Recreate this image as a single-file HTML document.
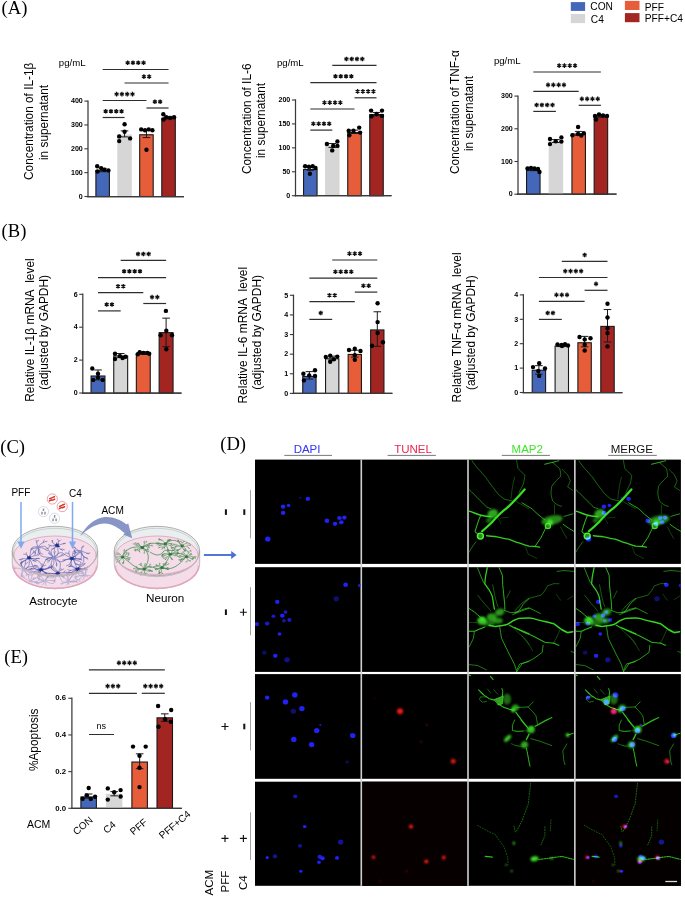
<!DOCTYPE html>
<html><head><meta charset="utf-8"><style>html,body{margin:0;padding:0;background:#fff;overflow:hidden}svg{display:block;will-change:transform}</style></head><body>
<svg width="685" height="897" viewBox="0 0 685 897">
<rect width="685" height="897" fill="#fff"/>
<text x="1.6" y="14.0" font-size="18.6" font-family='"Liberation Serif", serif'>(A)</text>
<text x="1.6" y="236.9" font-size="18.6" font-family='"Liberation Serif", serif'>(B)</text>
<text x="0.2" y="453.2" font-size="18.6" font-family='"Liberation Serif", serif'>(C)</text>
<text x="220.2" y="449.7" font-size="18.6" font-family='"Liberation Serif", serif'>(D)</text>
<text x="4.3" y="663.4" font-size="18.6" font-family='"Liberation Serif", serif'>(E)</text>
<rect x="570.8" y="2.1" width="14.3" height="8.8" fill="#4467b9"/>
<rect x="570.8" y="14" width="14.3" height="9.1" fill="#d6d6d6"/>
<rect x="624.9" y="0.9" width="14.6" height="9.1" fill="#e75d39"/>
<rect x="624.9" y="13.1" width="14.6" height="9.1" fill="#a32522"/>
<text x="590.3" y="9.6" font-size="10.2" font-family='"Liberation Sans", sans-serif'>CON</text>
<text x="590.8" y="22.7" font-size="10.2" font-family='"Liberation Sans", sans-serif'>C4</text>
<text x="644.8" y="10.8" font-size="10.2" font-family='"Liberation Sans", sans-serif'>PFF</text>
<text x="644.8" y="21.7" font-size="10.2" font-family='"Liberation Sans", sans-serif'>PFF+C4</text>
<line x1="88" y1="100.4" x2="88" y2="197.2" stroke="#3a3a3a" stroke-width="1.25"/>
<line x1="87.3" y1="196.5" x2="184" y2="196.5" stroke="#3a3a3a" stroke-width="1.25"/>
<line x1="84.4" y1="196.50" x2="88" y2="196.50" stroke="#3a3a3a" stroke-width="1.1"/>
<text x="82.8" y="198.70" font-size="7.1" font-weight="bold" text-anchor="end" font-family='"Liberation Sans", sans-serif'>0</text>
<line x1="84.4" y1="172.65" x2="88" y2="172.65" stroke="#3a3a3a" stroke-width="1.1"/>
<text x="82.8" y="174.85" font-size="7.1" font-weight="bold" text-anchor="end" font-family='"Liberation Sans", sans-serif'>100</text>
<line x1="84.4" y1="148.80" x2="88" y2="148.80" stroke="#3a3a3a" stroke-width="1.1"/>
<text x="82.8" y="151.00" font-size="7.1" font-weight="bold" text-anchor="end" font-family='"Liberation Sans", sans-serif'>200</text>
<line x1="84.4" y1="124.95" x2="88" y2="124.95" stroke="#3a3a3a" stroke-width="1.1"/>
<text x="82.8" y="127.15" font-size="7.1" font-weight="bold" text-anchor="end" font-family='"Liberation Sans", sans-serif'>300</text>
<line x1="84.4" y1="101.10" x2="88" y2="101.10" stroke="#3a3a3a" stroke-width="1.1"/>
<text x="82.8" y="103.30" font-size="7.1" font-weight="bold" text-anchor="end" font-family='"Liberation Sans", sans-serif'>400</text>
<rect x="95.90" y="170.53" width="13.50" height="25.97" fill="#4467b9" stroke="#1a1a1a" stroke-width="1.1"/>
<rect x="117.30" y="134.49" width="14.50" height="62.01" fill="#d6d6d6"/>
<rect x="139.70" y="134.75" width="13.50" height="61.75" fill="#e75d39" stroke="#1a1a1a" stroke-width="1.1"/>
<rect x="161.80" y="118.30" width="13.50" height="78.20" fill="#a32522" stroke="#1a1a1a" stroke-width="1.1"/>
<path d="M102.65,171.70V168.36M98.85,171.70H106.45M98.85,168.36H106.45" stroke="#1a1a1a" stroke-width="1" fill="none"/>
<path d="M124.55,136.88V130.91M120.75,136.88H128.35M120.75,130.91H128.35" stroke="#1a1a1a" stroke-width="1" fill="none"/>
<path d="M146.45,137.59V129.96M142.65,137.59H150.25M142.65,129.96H150.25" stroke="#1a1a1a" stroke-width="1" fill="none"/>
<path d="M168.55,118.75V116.36M164.75,118.75H172.35M164.75,116.36H172.35" stroke="#1a1a1a" stroke-width="1" fill="none"/>
<circle cx="97.20" cy="166.20" r="2.2" fill="#000"/>
<circle cx="101.20" cy="168.10" r="2.2" fill="#000"/>
<circle cx="104.50" cy="169.80" r="2.2" fill="#000"/>
<circle cx="108.40" cy="170.40" r="2.2" fill="#000"/>
<circle cx="97.50" cy="171.50" r="2.2" fill="#000"/>
<circle cx="124.60" cy="124.30" r="2.2" fill="#000"/>
<circle cx="124.60" cy="131.70" r="2.2" fill="#000"/>
<circle cx="119.20" cy="136.40" r="2.2" fill="#000"/>
<circle cx="130.10" cy="138.40" r="2.2" fill="#000"/>
<circle cx="119.20" cy="141.10" r="2.2" fill="#000"/>
<circle cx="141.20" cy="129.40" r="2.2" fill="#000"/>
<circle cx="145.00" cy="130.30" r="2.2" fill="#000"/>
<circle cx="148.70" cy="129.40" r="2.2" fill="#000"/>
<circle cx="152.40" cy="130.30" r="2.2" fill="#000"/>
<circle cx="146.50" cy="149.80" r="2.2" fill="#000"/>
<circle cx="163.30" cy="114.20" r="2.2" fill="#000"/>
<circle cx="166.20" cy="117.20" r="2.2" fill="#000"/>
<circle cx="170.20" cy="118.10" r="2.2" fill="#000"/>
<circle cx="174.10" cy="117.20" r="2.2" fill="#000"/>
<circle cx="163.60" cy="119.50" r="2.2" fill="#000"/>
<line x1="87.3" y1="196.5" x2="184" y2="196.5" stroke="#3a3a3a" stroke-width="1.25"/>
<line x1="102.65" y1="69.5" x2="168.55" y2="69.5" stroke="#2e2e2e" stroke-width="1.2"/>
<path d="M127.65,60.50L127.65,65.10M125.66,61.65L129.64,63.95M129.64,61.65L125.66,63.95M132.95,60.50L132.95,65.10M130.96,61.65L134.94,63.95M134.94,61.65L130.96,63.95M138.25,60.50L138.25,65.10M136.26,61.65L140.24,63.95M140.24,61.65L136.26,63.95M143.55,60.50L143.55,65.10M141.56,61.65L145.54,63.95M145.54,61.65L141.56,63.95" stroke="#111" stroke-width="1.3" fill="none" stroke-linecap="butt"/>
<line x1="124.55" y1="83.0" x2="168.55" y2="83.0" stroke="#2e2e2e" stroke-width="1.2"/>
<path d="M143.90,74.30L143.90,78.90M141.91,75.45L145.89,77.75M145.89,75.45L141.91,77.75M149.20,74.30L149.20,78.90M147.21,75.45L151.19,77.75M151.19,75.45L147.21,77.75" stroke="#111" stroke-width="1.3" fill="none" stroke-linecap="butt"/>
<line x1="102.65" y1="100.5" x2="146.45" y2="100.5" stroke="#2e2e2e" stroke-width="1.2"/>
<path d="M116.60,91.80L116.60,96.40M114.61,92.95L118.59,95.25M118.59,92.95L114.61,95.25M121.90,91.80L121.90,96.40M119.91,92.95L123.89,95.25M123.89,92.95L119.91,95.25M127.20,91.80L127.20,96.40M125.21,92.95L129.19,95.25M129.19,92.95L125.21,95.25M132.50,91.80L132.50,96.40M130.51,92.95L134.49,95.25M134.49,92.95L130.51,95.25" stroke="#111" stroke-width="1.3" fill="none" stroke-linecap="butt"/>
<line x1="146.45" y1="108.0" x2="168.55" y2="108.0" stroke="#2e2e2e" stroke-width="1.2"/>
<path d="M154.85,99.50L154.85,104.10M152.86,100.65L156.84,102.95M156.84,100.65L152.86,102.95M160.15,99.50L160.15,104.10M158.16,100.65L162.14,102.95M162.14,100.65L158.16,102.95" stroke="#111" stroke-width="1.3" fill="none" stroke-linecap="butt"/>
<line x1="102.65" y1="117.5" x2="124.55" y2="117.5" stroke="#2e2e2e" stroke-width="1.2"/>
<path d="M105.65,108.90L105.65,113.50M103.66,110.05L107.64,112.35M107.64,110.05L103.66,112.35M110.95,108.90L110.95,113.50M108.96,110.05L112.94,112.35M112.94,110.05L108.96,112.35M116.25,108.90L116.25,113.50M114.26,110.05L118.24,112.35M118.24,110.05L114.26,112.35M121.55,108.90L121.55,113.50M119.56,110.05L123.54,112.35M123.54,110.05L119.56,112.35" stroke="#111" stroke-width="1.3" fill="none" stroke-linecap="butt"/>
<text transform="translate(33.4,121.3) rotate(-90)" font-size="11.85" text-anchor="middle" font-family='"Liberation Sans", sans-serif'>Concentration of IL-1β</text>
<text transform="translate(47.6,122.5) rotate(-90)" font-size="11.85" text-anchor="middle" font-family='"Liberation Sans", sans-serif'>in supernatant</text>
<text x="58.8" y="66.0" font-size="9.6" font-family='"Liberation Sans", sans-serif'>pg/mL</text>
<line x1="295.5" y1="99.29999999999998" x2="295.5" y2="196.39999999999998" stroke="#3a3a3a" stroke-width="1.25"/>
<line x1="294.8" y1="195.7" x2="391.5" y2="195.7" stroke="#3a3a3a" stroke-width="1.25"/>
<line x1="291.9" y1="195.70" x2="295.5" y2="195.70" stroke="#3a3a3a" stroke-width="1.1"/>
<text x="290.3" y="197.90" font-size="7.1" font-weight="bold" text-anchor="end" font-family='"Liberation Sans", sans-serif'>0</text>
<line x1="291.9" y1="171.77" x2="295.5" y2="171.77" stroke="#3a3a3a" stroke-width="1.1"/>
<text x="290.3" y="173.97" font-size="7.1" font-weight="bold" text-anchor="end" font-family='"Liberation Sans", sans-serif'>50</text>
<line x1="291.9" y1="147.85" x2="295.5" y2="147.85" stroke="#3a3a3a" stroke-width="1.1"/>
<text x="290.3" y="150.05" font-size="7.1" font-weight="bold" text-anchor="end" font-family='"Liberation Sans", sans-serif'>100</text>
<line x1="291.9" y1="123.92" x2="295.5" y2="123.92" stroke="#3a3a3a" stroke-width="1.1"/>
<text x="290.3" y="126.12" font-size="7.1" font-weight="bold" text-anchor="end" font-family='"Liberation Sans", sans-serif'>150</text>
<line x1="291.9" y1="100.00" x2="295.5" y2="100.00" stroke="#3a3a3a" stroke-width="1.1"/>
<text x="290.3" y="102.20" font-size="7.1" font-weight="bold" text-anchor="end" font-family='"Liberation Sans", sans-serif'>200</text>
<rect x="303.55" y="169.50" width="13.50" height="26.20" fill="#4467b9" stroke="#1a1a1a" stroke-width="1.1"/>
<rect x="325.05" y="145.31" width="14.50" height="50.39" fill="#d6d6d6"/>
<rect x="347.75" y="132.51" width="13.50" height="63.19" fill="#e75d39" stroke="#1a1a1a" stroke-width="1.1"/>
<rect x="369.75" y="114.52" width="13.50" height="81.18" fill="#a32522" stroke="#1a1a1a" stroke-width="1.1"/>
<path d="M310.30,170.34V167.47M306.50,170.34H314.10M306.50,167.47H314.10" stroke="#1a1a1a" stroke-width="1" fill="none"/>
<path d="M332.30,147.37V143.54M328.50,147.37H336.10M328.50,143.54H336.10" stroke="#1a1a1a" stroke-width="1" fill="none"/>
<path d="M354.50,133.50V130.15M350.70,133.50H358.30M350.70,130.15H358.30" stroke="#1a1a1a" stroke-width="1" fill="none"/>
<path d="M376.50,115.79V112.44M372.70,115.79H380.30M372.70,112.44H380.30" stroke="#1a1a1a" stroke-width="1" fill="none"/>
<circle cx="305.10" cy="166.20" r="2.2" fill="#000"/>
<circle cx="308.90" cy="166.70" r="2.2" fill="#000"/>
<circle cx="312.70" cy="166.20" r="2.2" fill="#000"/>
<circle cx="315.50" cy="168.00" r="2.2" fill="#000"/>
<circle cx="309.90" cy="173.80" r="2.2" fill="#000"/>
<circle cx="326.90" cy="144.00" r="2.2" fill="#000"/>
<circle cx="333.20" cy="145.90" r="2.2" fill="#000"/>
<circle cx="337.40" cy="141.50" r="2.2" fill="#000"/>
<circle cx="337.40" cy="145.90" r="2.2" fill="#000"/>
<circle cx="332.20" cy="150.40" r="2.2" fill="#000"/>
<circle cx="348.70" cy="130.70" r="2.2" fill="#000"/>
<circle cx="353.50" cy="130.70" r="2.2" fill="#000"/>
<circle cx="359.20" cy="127.60" r="2.2" fill="#000"/>
<circle cx="360.10" cy="132.60" r="2.2" fill="#000"/>
<circle cx="349.30" cy="135.20" r="2.2" fill="#000"/>
<circle cx="371.10" cy="110.60" r="2.2" fill="#000"/>
<circle cx="382.00" cy="110.60" r="2.2" fill="#000"/>
<circle cx="376.60" cy="114.00" r="2.2" fill="#000"/>
<circle cx="371.50" cy="116.40" r="2.2" fill="#000"/>
<circle cx="382.00" cy="115.90" r="2.2" fill="#000"/>
<line x1="294.8" y1="195.7" x2="391.5" y2="195.7" stroke="#3a3a3a" stroke-width="1.25"/>
<line x1="332.3" y1="65.4" x2="376.5" y2="65.4" stroke="#2e2e2e" stroke-width="1.2"/>
<path d="M346.45,56.70L346.45,61.30M344.46,57.85L348.44,60.15M348.44,57.85L344.46,60.15M351.75,56.70L351.75,61.30M349.76,57.85L353.74,60.15M353.74,57.85L349.76,60.15M357.05,56.70L357.05,61.30M355.06,57.85L359.04,60.15M359.04,57.85L355.06,60.15M362.35,56.70L362.35,61.30M360.36,57.85L364.34,60.15M364.34,57.85L360.36,60.15" stroke="#111" stroke-width="1.3" fill="none" stroke-linecap="butt"/>
<line x1="310.3" y1="82.6" x2="376.5" y2="82.6" stroke="#2e2e2e" stroke-width="1.2"/>
<path d="M335.45,73.90L335.45,78.50M333.46,75.05L337.44,77.35M337.44,75.05L333.46,77.35M340.75,73.90L340.75,78.50M338.76,75.05L342.74,77.35M342.74,75.05L338.76,77.35M346.05,73.90L346.05,78.50M344.06,75.05L348.04,77.35M348.04,75.05L344.06,77.35M351.35,73.90L351.35,78.50M349.36,75.05L353.34,77.35M353.34,75.05L349.36,77.35" stroke="#111" stroke-width="1.3" fill="none" stroke-linecap="butt"/>
<line x1="354.5" y1="97.8" x2="376.5" y2="97.8" stroke="#2e2e2e" stroke-width="1.2"/>
<path d="M357.55,89.10L357.55,93.70M355.56,90.25L359.54,92.55M359.54,90.25L355.56,92.55M362.85,89.10L362.85,93.70M360.86,90.25L364.84,92.55M364.84,90.25L360.86,92.55M368.15,89.10L368.15,93.70M366.16,90.25L370.14,92.55M370.14,90.25L366.16,92.55M373.45,89.10L373.45,93.70M371.46,90.25L375.44,92.55M375.44,90.25L371.46,92.55" stroke="#111" stroke-width="1.3" fill="none" stroke-linecap="butt"/>
<line x1="310.3" y1="109" x2="354.5" y2="109" stroke="#2e2e2e" stroke-width="1.2"/>
<path d="M324.45,100.30L324.45,104.90M322.46,101.45L326.44,103.75M326.44,101.45L322.46,103.75M329.75,100.30L329.75,104.90M327.76,101.45L331.74,103.75M331.74,101.45L327.76,103.75M335.05,100.30L335.05,104.90M333.06,101.45L337.04,103.75M337.04,101.45L333.06,103.75M340.35,100.30L340.35,104.90M338.36,101.45L342.34,103.75M342.34,101.45L338.36,103.75" stroke="#111" stroke-width="1.3" fill="none" stroke-linecap="butt"/>
<line x1="310.3" y1="130.1" x2="332.3" y2="130.1" stroke="#2e2e2e" stroke-width="1.2"/>
<path d="M313.35,121.40L313.35,126.00M311.36,122.55L315.34,124.85M315.34,122.55L311.36,124.85M318.65,121.40L318.65,126.00M316.66,122.55L320.64,124.85M320.64,122.55L316.66,124.85M323.95,121.40L323.95,126.00M321.96,122.55L325.94,124.85M325.94,122.55L321.96,124.85M329.25,121.40L329.25,126.00M327.26,122.55L331.24,124.85M331.24,122.55L327.26,124.85" stroke="#111" stroke-width="1.3" fill="none" stroke-linecap="butt"/>
<text transform="translate(251,118.8) rotate(-90)" font-size="11.85" text-anchor="middle" font-family='"Liberation Sans", sans-serif'>Concentration of IL-6</text>
<text transform="translate(265,120.5) rotate(-90)" font-size="11.85" text-anchor="middle" font-family='"Liberation Sans", sans-serif'>in supernatant</text>
<text x="277.0" y="65.8" font-size="9.6" font-family='"Liberation Sans", sans-serif'>pg/mL</text>
<line x1="518.0" y1="95.39999999999998" x2="518.0" y2="194.89999999999998" stroke="#3a3a3a" stroke-width="1.25"/>
<line x1="517.3" y1="194.2" x2="616.5" y2="194.2" stroke="#3a3a3a" stroke-width="1.25"/>
<line x1="514.4" y1="194.20" x2="518.0" y2="194.20" stroke="#3a3a3a" stroke-width="1.1"/>
<text x="512.8" y="196.40" font-size="7.1" font-weight="bold" text-anchor="end" font-family='"Liberation Sans", sans-serif'>0</text>
<line x1="514.4" y1="161.50" x2="518.0" y2="161.50" stroke="#3a3a3a" stroke-width="1.1"/>
<text x="512.8" y="163.70" font-size="7.1" font-weight="bold" text-anchor="end" font-family='"Liberation Sans", sans-serif'>100</text>
<line x1="514.4" y1="128.80" x2="518.0" y2="128.80" stroke="#3a3a3a" stroke-width="1.1"/>
<text x="512.8" y="131.00" font-size="7.1" font-weight="bold" text-anchor="end" font-family='"Liberation Sans", sans-serif'>200</text>
<line x1="514.4" y1="96.10" x2="518.0" y2="96.10" stroke="#3a3a3a" stroke-width="1.1"/>
<text x="512.8" y="98.30" font-size="7.1" font-weight="bold" text-anchor="end" font-family='"Liberation Sans", sans-serif'>300</text>
<rect x="526.55" y="170.40" width="13.50" height="23.80" fill="#4467b9" stroke="#1a1a1a" stroke-width="1.1"/>
<rect x="548.65" y="141.10" width="14.50" height="53.10" fill="#d6d6d6"/>
<rect x="571.95" y="134.01" width="13.50" height="60.19" fill="#e75d39" stroke="#1a1a1a" stroke-width="1.1"/>
<rect x="594.15" y="116.91" width="13.50" height="77.29" fill="#a32522" stroke="#1a1a1a" stroke-width="1.1"/>
<path d="M533.30,170.66V169.02M529.50,170.66H537.10M529.50,169.02H537.10" stroke="#1a1a1a" stroke-width="1" fill="none"/>
<path d="M555.90,142.53V139.59M552.10,142.53H559.70M552.10,139.59H559.70" stroke="#1a1a1a" stroke-width="1" fill="none"/>
<path d="M578.70,135.34V131.42M574.90,135.34H582.50M574.90,131.42H582.50" stroke="#1a1a1a" stroke-width="1" fill="none"/>
<path d="M600.90,117.03V115.72M597.10,117.03H604.70M597.10,115.72H604.70" stroke="#1a1a1a" stroke-width="1" fill="none"/>
<circle cx="527.50" cy="168.50" r="2.2" fill="#000"/>
<circle cx="531.00" cy="168.00" r="2.2" fill="#000"/>
<circle cx="534.50" cy="168.50" r="2.2" fill="#000"/>
<circle cx="538.00" cy="169.00" r="2.2" fill="#000"/>
<circle cx="539.50" cy="172.00" r="2.2" fill="#000"/>
<circle cx="550.00" cy="139.00" r="2.2" fill="#000"/>
<circle cx="555.70" cy="141.20" r="2.2" fill="#000"/>
<circle cx="561.40" cy="137.40" r="2.2" fill="#000"/>
<circle cx="561.40" cy="141.60" r="2.2" fill="#000"/>
<circle cx="550.00" cy="144.10" r="2.2" fill="#000"/>
<circle cx="578.10" cy="127.00" r="2.2" fill="#000"/>
<circle cx="572.40" cy="135.20" r="2.2" fill="#000"/>
<circle cx="578.10" cy="134.00" r="2.2" fill="#000"/>
<circle cx="583.80" cy="133.30" r="2.2" fill="#000"/>
<circle cx="581.30" cy="135.50" r="2.2" fill="#000"/>
<circle cx="595.00" cy="116.00" r="2.2" fill="#000"/>
<circle cx="599.00" cy="114.50" r="2.2" fill="#000"/>
<circle cx="603.00" cy="115.50" r="2.2" fill="#000"/>
<circle cx="607.00" cy="116.00" r="2.2" fill="#000"/>
<circle cx="596.00" cy="119.50" r="2.2" fill="#000"/>
<line x1="517.3" y1="194.2" x2="616.5" y2="194.2" stroke="#3a3a3a" stroke-width="1.25"/>
<line x1="533.3" y1="72" x2="600.9" y2="72" stroke="#2e2e2e" stroke-width="1.2"/>
<path d="M559.15,63.30L559.15,67.90M557.16,64.45L561.14,66.75M561.14,64.45L557.16,66.75M564.45,63.30L564.45,67.90M562.46,64.45L566.44,66.75M566.44,64.45L562.46,66.75M569.75,63.30L569.75,67.90M567.76,64.45L571.74,66.75M571.74,64.45L567.76,66.75M575.05,63.30L575.05,67.90M573.06,64.45L577.04,66.75M577.04,64.45L573.06,66.75" stroke="#111" stroke-width="1.3" fill="none" stroke-linecap="butt"/>
<line x1="533.3" y1="91.3" x2="578.7" y2="91.3" stroke="#2e2e2e" stroke-width="1.2"/>
<path d="M548.05,82.60L548.05,87.20M546.06,83.75L550.04,86.05M550.04,83.75L546.06,86.05M553.35,82.60L553.35,87.20M551.36,83.75L555.34,86.05M555.34,83.75L551.36,86.05M558.65,82.60L558.65,87.20M556.66,83.75L560.64,86.05M560.64,83.75L556.66,86.05M563.95,82.60L563.95,87.20M561.96,83.75L565.94,86.05M565.94,83.75L561.96,86.05" stroke="#111" stroke-width="1.3" fill="none" stroke-linecap="butt"/>
<line x1="578.7" y1="105.3" x2="600.9" y2="105.3" stroke="#2e2e2e" stroke-width="1.2"/>
<path d="M581.85,96.60L581.85,101.20M579.86,97.75L583.84,100.05M583.84,97.75L579.86,100.05M587.15,96.60L587.15,101.20M585.16,97.75L589.14,100.05M589.14,97.75L585.16,100.05M592.45,96.60L592.45,101.20M590.46,97.75L594.44,100.05M594.44,97.75L590.46,100.05M597.75,96.60L597.75,101.20M595.76,97.75L599.74,100.05M599.74,97.75L595.76,100.05" stroke="#111" stroke-width="1.3" fill="none" stroke-linecap="butt"/>
<line x1="533.3" y1="111.4" x2="555.9" y2="111.4" stroke="#2e2e2e" stroke-width="1.2"/>
<path d="M536.65,102.70L536.65,107.30M534.66,103.85L538.64,106.15M538.64,103.85L534.66,106.15M541.95,102.70L541.95,107.30M539.96,103.85L543.94,106.15M543.94,103.85L539.96,106.15M547.25,102.70L547.25,107.30M545.26,103.85L549.24,106.15M549.24,103.85L545.26,106.15M552.55,102.70L552.55,107.30M550.56,103.85L554.54,106.15M554.54,103.85L550.56,106.15" stroke="#111" stroke-width="1.3" fill="none" stroke-linecap="butt"/>
<text transform="translate(458.9,112.1) rotate(-90)" font-size="11.85" text-anchor="middle" font-family='"Liberation Sans", sans-serif'>Concentration of TNF-α</text>
<text transform="translate(472.6,113.5) rotate(-90)" font-size="11.85" text-anchor="middle" font-family='"Liberation Sans", sans-serif'>in supernatant</text>
<text x="493.9" y="64.1" font-size="9.6" font-family='"Liberation Sans", sans-serif'>pg/mL</text>
<line x1="82.8" y1="293.6" x2="82.8" y2="393.7" stroke="#3a3a3a" stroke-width="1.25"/>
<line x1="82.1" y1="393" x2="181.5" y2="393" stroke="#3a3a3a" stroke-width="1.25"/>
<line x1="79.2" y1="393.00" x2="82.8" y2="393.00" stroke="#3a3a3a" stroke-width="1.1"/>
<text x="77.6" y="395.20" font-size="7.1" font-weight="bold" text-anchor="end" font-family='"Liberation Sans", sans-serif'>0</text>
<line x1="79.2" y1="360.10" x2="82.8" y2="360.10" stroke="#3a3a3a" stroke-width="1.1"/>
<text x="77.6" y="362.30" font-size="7.1" font-weight="bold" text-anchor="end" font-family='"Liberation Sans", sans-serif'>2</text>
<line x1="79.2" y1="327.20" x2="82.8" y2="327.20" stroke="#3a3a3a" stroke-width="1.1"/>
<text x="77.6" y="329.40" font-size="7.1" font-weight="bold" text-anchor="end" font-family='"Liberation Sans", sans-serif'>4</text>
<line x1="79.2" y1="294.30" x2="82.8" y2="294.30" stroke="#3a3a3a" stroke-width="1.1"/>
<text x="77.6" y="296.50" font-size="7.1" font-weight="bold" text-anchor="end" font-family='"Liberation Sans", sans-serif'>6</text>
<rect x="91.05" y="376.00" width="13.90" height="17.00" fill="#4467b9" stroke="#1a1a1a" stroke-width="1.1"/>
<rect x="113.75" y="355.99" width="13.90" height="37.01" fill="#d6d6d6" stroke="#1a1a1a" stroke-width="1.1"/>
<rect x="136.35" y="353.69" width="13.90" height="39.31" fill="#e75d39" stroke="#1a1a1a" stroke-width="1.1"/>
<rect x="159.15" y="332.63" width="13.90" height="60.37" fill="#a32522" stroke="#1a1a1a" stroke-width="1.1"/>
<path d="M98.00,379.84V369.97M94.20,379.84H101.80M94.20,369.97H101.80" stroke="#1a1a1a" stroke-width="1" fill="none"/>
<path d="M120.70,357.63V353.52M116.90,357.63H124.50M116.90,353.52H124.50" stroke="#1a1a1a" stroke-width="1" fill="none"/>
<path d="M143.30,354.34V351.88M139.50,354.34H147.10M139.50,351.88H147.10" stroke="#1a1a1a" stroke-width="1" fill="none"/>
<path d="M166.10,346.61V318.15M162.30,346.61H169.90M162.30,318.15H169.90" stroke="#1a1a1a" stroke-width="1" fill="none"/>
<circle cx="92.30" cy="368.50" r="2.2" fill="#000"/>
<circle cx="98.00" cy="373.80" r="2.2" fill="#000"/>
<circle cx="98.00" cy="377.60" r="2.2" fill="#000"/>
<circle cx="93.20" cy="379.90" r="2.2" fill="#000"/>
<circle cx="102.70" cy="379.90" r="2.2" fill="#000"/>
<circle cx="115.00" cy="353.70" r="2.2" fill="#000"/>
<circle cx="119.80" cy="356.10" r="2.2" fill="#000"/>
<circle cx="125.50" cy="356.70" r="2.2" fill="#000"/>
<circle cx="115.00" cy="359.00" r="2.2" fill="#000"/>
<circle cx="122.60" cy="358.00" r="2.2" fill="#000"/>
<circle cx="139.70" cy="352.30" r="2.2" fill="#000"/>
<circle cx="143.50" cy="352.90" r="2.2" fill="#000"/>
<circle cx="147.30" cy="352.90" r="2.2" fill="#000"/>
<circle cx="137.80" cy="354.20" r="2.2" fill="#000"/>
<circle cx="149.20" cy="353.70" r="2.2" fill="#000"/>
<circle cx="165.90" cy="310.90" r="2.2" fill="#000"/>
<circle cx="166.30" cy="330.80" r="2.2" fill="#000"/>
<circle cx="160.60" cy="335.20" r="2.2" fill="#000"/>
<circle cx="172.00" cy="335.20" r="2.2" fill="#000"/>
<circle cx="166.30" cy="349.20" r="2.2" fill="#000"/>
<line x1="82.1" y1="393" x2="181.5" y2="393" stroke="#3a3a3a" stroke-width="1.25"/>
<line x1="120.7" y1="260.4" x2="166.1" y2="260.4" stroke="#2e2e2e" stroke-width="1.2"/>
<path d="M138.10,251.70L138.10,256.30M136.11,252.85L140.09,255.15M140.09,252.85L136.11,255.15M143.40,251.70L143.40,256.30M141.41,252.85L145.39,255.15M145.39,252.85L141.41,255.15M148.70,251.70L148.70,256.30M146.71,252.85L150.69,255.15M150.69,252.85L146.71,255.15" stroke="#111" stroke-width="1.3" fill="none" stroke-linecap="butt"/>
<line x1="98" y1="277.6" x2="166.1" y2="277.6" stroke="#2e2e2e" stroke-width="1.2"/>
<path d="M124.10,268.90L124.10,273.50M122.11,270.05L126.09,272.35M126.09,270.05L122.11,272.35M129.40,268.90L129.40,273.50M127.41,270.05L131.39,272.35M131.39,270.05L127.41,272.35M134.70,268.90L134.70,273.50M132.71,270.05L136.69,272.35M136.69,270.05L132.71,272.35M140.00,268.90L140.00,273.50M138.01,270.05L141.99,272.35M141.99,270.05L138.01,272.35" stroke="#111" stroke-width="1.3" fill="none" stroke-linecap="butt"/>
<line x1="98" y1="292.7" x2="143.3" y2="292.7" stroke="#2e2e2e" stroke-width="1.2"/>
<path d="M118.00,284.00L118.00,288.60M116.01,285.15L119.99,287.45M119.99,285.15L116.01,287.45M123.30,284.00L123.30,288.60M121.31,285.15L125.29,287.45M125.29,285.15L121.31,287.45" stroke="#111" stroke-width="1.3" fill="none" stroke-linecap="butt"/>
<line x1="143.3" y1="303.5" x2="166.1" y2="303.5" stroke="#2e2e2e" stroke-width="1.2"/>
<path d="M152.05,294.80L152.05,299.40M150.06,295.95L154.04,298.25M154.04,295.95L150.06,298.25M157.35,294.80L157.35,299.40M155.36,295.95L159.34,298.25M159.34,295.95L155.36,298.25" stroke="#111" stroke-width="1.3" fill="none" stroke-linecap="butt"/>
<line x1="98" y1="310.9" x2="120.7" y2="310.9" stroke="#2e2e2e" stroke-width="1.2"/>
<path d="M106.70,302.20L106.70,306.80M104.71,303.35L108.69,305.65M108.69,303.35L104.71,305.65M112.00,302.20L112.00,306.80M110.01,303.35L113.99,305.65M113.99,303.35L110.01,305.65" stroke="#111" stroke-width="1.3" fill="none" stroke-linecap="butt"/>
<text transform="translate(33.5,330.0) rotate(-90)" font-size="11.95" text-anchor="middle" font-family='"Liberation Sans", sans-serif'>Relative IL-1β mRNA&#160; level</text>
<text transform="translate(47.6,332.3) rotate(-90)" font-size="11.95" text-anchor="middle" font-family='"Liberation Sans", sans-serif'>(adjusted by GAPDH)</text>
<line x1="293.5" y1="294.59999999999997" x2="293.5" y2="394.09999999999997" stroke="#3a3a3a" stroke-width="1.25"/>
<line x1="292.8" y1="393.4" x2="392.4" y2="393.4" stroke="#3a3a3a" stroke-width="1.25"/>
<line x1="289.9" y1="393.40" x2="293.5" y2="393.40" stroke="#3a3a3a" stroke-width="1.1"/>
<text x="288.3" y="395.60" font-size="7.1" font-weight="bold" text-anchor="end" font-family='"Liberation Sans", sans-serif'>0</text>
<line x1="289.9" y1="373.78" x2="293.5" y2="373.78" stroke="#3a3a3a" stroke-width="1.1"/>
<text x="288.3" y="375.98" font-size="7.1" font-weight="bold" text-anchor="end" font-family='"Liberation Sans", sans-serif'>1</text>
<line x1="289.9" y1="354.16" x2="293.5" y2="354.16" stroke="#3a3a3a" stroke-width="1.1"/>
<text x="288.3" y="356.36" font-size="7.1" font-weight="bold" text-anchor="end" font-family='"Liberation Sans", sans-serif'>2</text>
<line x1="289.9" y1="334.54" x2="293.5" y2="334.54" stroke="#3a3a3a" stroke-width="1.1"/>
<text x="288.3" y="336.74" font-size="7.1" font-weight="bold" text-anchor="end" font-family='"Liberation Sans", sans-serif'>3</text>
<line x1="289.9" y1="314.92" x2="293.5" y2="314.92" stroke="#3a3a3a" stroke-width="1.1"/>
<text x="288.3" y="317.12" font-size="7.1" font-weight="bold" text-anchor="end" font-family='"Liberation Sans", sans-serif'>4</text>
<line x1="289.9" y1="295.30" x2="293.5" y2="295.30" stroke="#3a3a3a" stroke-width="1.1"/>
<text x="288.3" y="297.50" font-size="7.1" font-weight="bold" text-anchor="end" font-family='"Liberation Sans", sans-serif'>5</text>
<rect x="302.75" y="376.44" width="13.30" height="16.96" fill="#4467b9" stroke="#1a1a1a" stroke-width="1.1"/>
<rect x="325.55" y="358.78" width="13.30" height="34.62" fill="#d6d6d6" stroke="#1a1a1a" stroke-width="1.1"/>
<rect x="348.15" y="354.46" width="13.30" height="38.94" fill="#e75d39" stroke="#1a1a1a" stroke-width="1.1"/>
<rect x="370.65" y="329.94" width="13.30" height="63.46" fill="#a32522" stroke="#1a1a1a" stroke-width="1.1"/>
<path d="M309.40,379.08V371.62M305.60,379.08H313.20M305.60,371.62H313.20" stroke="#1a1a1a" stroke-width="1" fill="none"/>
<path d="M332.20,360.05V356.12M328.40,360.05H336.00M328.40,356.12H336.00" stroke="#1a1a1a" stroke-width="1" fill="none"/>
<path d="M354.80,357.10V350.24M351.00,357.10H358.60M351.00,350.24H358.60" stroke="#1a1a1a" stroke-width="1" fill="none"/>
<path d="M377.30,346.31V311.78M373.50,346.31H381.10M373.50,311.78H381.10" stroke="#1a1a1a" stroke-width="1" fill="none"/>
<circle cx="303.40" cy="373.70" r="2.2" fill="#000"/>
<circle cx="309.20" cy="375.50" r="2.2" fill="#000"/>
<circle cx="315.00" cy="370.30" r="2.2" fill="#000"/>
<circle cx="315.00" cy="375.90" r="2.2" fill="#000"/>
<circle cx="303.90" cy="380.40" r="2.2" fill="#000"/>
<circle cx="325.80" cy="357.00" r="2.2" fill="#000"/>
<circle cx="330.20" cy="355.80" r="2.2" fill="#000"/>
<circle cx="337.30" cy="356.60" r="2.2" fill="#000"/>
<circle cx="333.80" cy="359.20" r="2.2" fill="#000"/>
<circle cx="330.20" cy="361.80" r="2.2" fill="#000"/>
<circle cx="349.00" cy="350.00" r="2.2" fill="#000"/>
<circle cx="354.80" cy="348.80" r="2.2" fill="#000"/>
<circle cx="360.50" cy="351.00" r="2.2" fill="#000"/>
<circle cx="354.80" cy="355.20" r="2.2" fill="#000"/>
<circle cx="354.80" cy="359.80" r="2.2" fill="#000"/>
<circle cx="377.60" cy="303.20" r="2.2" fill="#000"/>
<circle cx="377.60" cy="322.10" r="2.2" fill="#000"/>
<circle cx="377.60" cy="333.00" r="2.2" fill="#000"/>
<circle cx="382.90" cy="342.30" r="2.2" fill="#000"/>
<circle cx="372.00" cy="345.80" r="2.2" fill="#000"/>
<line x1="292.8" y1="393.4" x2="392.4" y2="393.4" stroke="#3a3a3a" stroke-width="1.25"/>
<line x1="332.2" y1="260" x2="377.3" y2="260" stroke="#2e2e2e" stroke-width="1.2"/>
<path d="M349.45,251.30L349.45,255.90M347.46,252.45L351.44,254.75M351.44,252.45L347.46,254.75M354.75,251.30L354.75,255.90M352.76,252.45L356.74,254.75M356.74,252.45L352.76,254.75M360.05,251.30L360.05,255.90M358.06,252.45L362.04,254.75M362.04,252.45L358.06,254.75" stroke="#111" stroke-width="1.3" fill="none" stroke-linecap="butt"/>
<line x1="309.4" y1="278.1" x2="377.3" y2="278.1" stroke="#2e2e2e" stroke-width="1.2"/>
<path d="M335.40,269.40L335.40,274.00M333.41,270.55L337.39,272.85M337.39,270.55L333.41,272.85M340.70,269.40L340.70,274.00M338.71,270.55L342.69,272.85M342.69,270.55L338.71,272.85M346.00,269.40L346.00,274.00M344.01,270.55L347.99,272.85M347.99,270.55L344.01,272.85M351.30,269.40L351.30,274.00M349.31,270.55L353.29,272.85M353.29,270.55L349.31,272.85" stroke="#111" stroke-width="1.3" fill="none" stroke-linecap="butt"/>
<line x1="354.8" y1="292.1" x2="377.3" y2="292.1" stroke="#2e2e2e" stroke-width="1.2"/>
<path d="M363.40,283.40L363.40,288.00M361.41,284.55L365.39,286.85M365.39,284.55L361.41,286.85M368.70,283.40L368.70,288.00M366.71,284.55L370.69,286.85M370.69,284.55L366.71,286.85" stroke="#111" stroke-width="1.3" fill="none" stroke-linecap="butt"/>
<line x1="309.4" y1="301.7" x2="354.8" y2="301.7" stroke="#2e2e2e" stroke-width="1.2"/>
<path d="M329.45,293.00L329.45,297.60M327.46,294.15L331.44,296.45M331.44,294.15L327.46,296.45M334.75,293.00L334.75,297.60M332.76,294.15L336.74,296.45M336.74,294.15L332.76,296.45" stroke="#111" stroke-width="1.3" fill="none" stroke-linecap="butt"/>
<line x1="309.4" y1="319.4" x2="332.2" y2="319.4" stroke="#2e2e2e" stroke-width="1.2"/>
<path d="M320.80,310.70L320.80,315.30M318.81,311.85L322.79,314.15M322.79,311.85L318.81,314.15" stroke="#111" stroke-width="1.3" fill="none" stroke-linecap="butt"/>
<text transform="translate(246.8,335.2) rotate(-90)" font-size="11.95" text-anchor="middle" font-family='"Liberation Sans", sans-serif'>Relative IL-6 mRNA&#160; level</text>
<text transform="translate(260.8,332.4) rotate(-90)" font-size="11.95" text-anchor="middle" font-family='"Liberation Sans", sans-serif'>(adjusted by GAPDH)</text>
<line x1="523.4" y1="294.2" x2="523.4" y2="393.2" stroke="#3a3a3a" stroke-width="1.25"/>
<line x1="522.6999999999999" y1="392.5" x2="622.4" y2="392.5" stroke="#3a3a3a" stroke-width="1.25"/>
<line x1="519.8" y1="392.50" x2="523.4" y2="392.50" stroke="#3a3a3a" stroke-width="1.1"/>
<text x="518.1999999999999" y="394.70" font-size="7.1" font-weight="bold" text-anchor="end" font-family='"Liberation Sans", sans-serif'>0</text>
<line x1="519.8" y1="368.10" x2="523.4" y2="368.10" stroke="#3a3a3a" stroke-width="1.1"/>
<text x="518.1999999999999" y="370.30" font-size="7.1" font-weight="bold" text-anchor="end" font-family='"Liberation Sans", sans-serif'>1</text>
<line x1="519.8" y1="343.70" x2="523.4" y2="343.70" stroke="#3a3a3a" stroke-width="1.1"/>
<text x="518.1999999999999" y="345.90" font-size="7.1" font-weight="bold" text-anchor="end" font-family='"Liberation Sans", sans-serif'>2</text>
<line x1="519.8" y1="319.30" x2="523.4" y2="319.30" stroke="#3a3a3a" stroke-width="1.1"/>
<text x="518.1999999999999" y="321.50" font-size="7.1" font-weight="bold" text-anchor="end" font-family='"Liberation Sans", sans-serif'>3</text>
<line x1="519.8" y1="294.90" x2="523.4" y2="294.90" stroke="#3a3a3a" stroke-width="1.1"/>
<text x="518.1999999999999" y="297.10" font-size="7.1" font-weight="bold" text-anchor="end" font-family='"Liberation Sans", sans-serif'>4</text>
<rect x="532.20" y="370.21" width="13.40" height="22.29" fill="#4467b9" stroke="#1a1a1a" stroke-width="1.1"/>
<rect x="555.10" y="346.20" width="13.40" height="46.30" fill="#d6d6d6" stroke="#1a1a1a" stroke-width="1.1"/>
<rect x="577.90" y="342.74" width="13.40" height="49.76" fill="#e75d39" stroke="#1a1a1a" stroke-width="1.1"/>
<rect x="600.80" y="326.39" width="13.40" height="66.11" fill="#a32522" stroke="#1a1a1a" stroke-width="1.1"/>
<path d="M538.90,374.20V365.66M535.10,374.20H542.70M535.10,365.66H542.70" stroke="#1a1a1a" stroke-width="1" fill="none"/>
<path d="M561.80,346.63V344.92M558.00,346.63H565.60M558.00,344.92H565.60" stroke="#1a1a1a" stroke-width="1" fill="none"/>
<path d="M584.60,346.87V336.38M580.80,346.87H588.40M580.80,336.38H588.40" stroke="#1a1a1a" stroke-width="1" fill="none"/>
<path d="M607.50,341.99V309.54M603.70,341.99H611.30M603.70,309.54H611.30" stroke="#1a1a1a" stroke-width="1" fill="none"/>
<circle cx="539.20" cy="363.30" r="2.2" fill="#000"/>
<circle cx="533.00" cy="367.10" r="2.2" fill="#000"/>
<circle cx="545.00" cy="368.50" r="2.2" fill="#000"/>
<circle cx="538.30" cy="371.00" r="2.2" fill="#000"/>
<circle cx="539.20" cy="375.90" r="2.2" fill="#000"/>
<circle cx="557.50" cy="344.50" r="2.2" fill="#000"/>
<circle cx="561.50" cy="345.00" r="2.2" fill="#000"/>
<circle cx="565.00" cy="344.30" r="2.2" fill="#000"/>
<circle cx="568.00" cy="345.50" r="2.2" fill="#000"/>
<circle cx="562.00" cy="346.00" r="2.2" fill="#000"/>
<circle cx="579.50" cy="337.00" r="2.2" fill="#000"/>
<circle cx="584.70" cy="339.40" r="2.2" fill="#000"/>
<circle cx="590.50" cy="338.20" r="2.2" fill="#000"/>
<circle cx="584.70" cy="344.70" r="2.2" fill="#000"/>
<circle cx="584.70" cy="350.50" r="2.2" fill="#000"/>
<circle cx="607.50" cy="303.70" r="2.2" fill="#000"/>
<circle cx="607.50" cy="317.50" r="2.2" fill="#000"/>
<circle cx="607.50" cy="328.20" r="2.2" fill="#000"/>
<circle cx="607.50" cy="333.00" r="2.2" fill="#000"/>
<circle cx="607.50" cy="346.40" r="2.2" fill="#000"/>
<line x1="522.6999999999999" y1="392.5" x2="622.4" y2="392.5" stroke="#3a3a3a" stroke-width="1.25"/>
<line x1="561.8" y1="261.4" x2="607.5" y2="261.4" stroke="#2e2e2e" stroke-width="1.2"/>
<path d="M584.65,252.70L584.65,257.30M582.66,253.85L586.64,256.15M586.64,253.85L582.66,256.15" stroke="#111" stroke-width="1.3" fill="none" stroke-linecap="butt"/>
<line x1="538.9" y1="277.5" x2="607.5" y2="277.5" stroke="#2e2e2e" stroke-width="1.2"/>
<path d="M565.25,268.80L565.25,273.40M563.26,269.95L567.24,272.25M567.24,269.95L563.26,272.25M570.55,268.80L570.55,273.40M568.56,269.95L572.54,272.25M572.54,269.95L568.56,272.25M575.85,268.80L575.85,273.40M573.86,269.95L577.84,272.25M577.84,269.95L573.86,272.25M581.15,268.80L581.15,273.40M579.16,269.95L583.14,272.25M583.14,269.95L579.16,272.25" stroke="#111" stroke-width="1.3" fill="none" stroke-linecap="butt"/>
<line x1="584.6" y1="290.3" x2="607.5" y2="290.3" stroke="#2e2e2e" stroke-width="1.2"/>
<path d="M596.05,281.60L596.05,286.20M594.06,282.75L598.04,285.05M598.04,282.75L594.06,285.05" stroke="#111" stroke-width="1.3" fill="none" stroke-linecap="butt"/>
<line x1="538.9" y1="301.3" x2="584.6" y2="301.3" stroke="#2e2e2e" stroke-width="1.2"/>
<path d="M556.45,292.60L556.45,297.20M554.46,293.75L558.44,296.05M558.44,293.75L554.46,296.05M561.75,292.60L561.75,297.20M559.76,293.75L563.74,296.05M563.74,293.75L559.76,296.05M567.05,292.60L567.05,297.20M565.06,293.75L569.04,296.05M569.04,293.75L565.06,296.05" stroke="#111" stroke-width="1.3" fill="none" stroke-linecap="butt"/>
<line x1="538.9" y1="319.4" x2="561.8" y2="319.4" stroke="#2e2e2e" stroke-width="1.2"/>
<path d="M547.70,310.70L547.70,315.30M545.71,311.85L549.69,314.15M549.69,311.85L545.71,314.15M553.00,310.70L553.00,315.30M551.01,311.85L554.99,314.15M554.99,311.85L551.01,314.15" stroke="#111" stroke-width="1.3" fill="none" stroke-linecap="butt"/>
<text transform="translate(460.9,327.4) rotate(-90)" font-size="11.95" text-anchor="middle" font-family='"Liberation Sans", sans-serif'>Relative TNF-α mRNA&#160; level</text>
<text transform="translate(475.2,332.7) rotate(-90)" font-size="11.95" text-anchor="middle" font-family='"Liberation Sans", sans-serif'>(adjusted by GAPDH)</text>
<line x1="71.9" y1="697.56" x2="71.9" y2="809.0" stroke="#3a3a3a" stroke-width="1.25"/>
<line x1="71.2" y1="808.3" x2="181.8" y2="808.3" stroke="#3a3a3a" stroke-width="1.25"/>
<line x1="68.30000000000001" y1="808.30" x2="71.9" y2="808.30" stroke="#3a3a3a" stroke-width="1.1"/>
<text x="66.0" y="810.50" font-size="7.8" font-weight="bold" text-anchor="end" font-family='"Liberation Sans", sans-serif'>0.0</text>
<line x1="68.30000000000001" y1="771.62" x2="71.9" y2="771.62" stroke="#3a3a3a" stroke-width="1.1"/>
<text x="66.0" y="773.82" font-size="7.8" font-weight="bold" text-anchor="end" font-family='"Liberation Sans", sans-serif'>0.2</text>
<line x1="68.30000000000001" y1="734.94" x2="71.9" y2="734.94" stroke="#3a3a3a" stroke-width="1.1"/>
<text x="66.0" y="737.14" font-size="7.8" font-weight="bold" text-anchor="end" font-family='"Liberation Sans", sans-serif'>0.4</text>
<line x1="68.30000000000001" y1="698.26" x2="71.9" y2="698.26" stroke="#3a3a3a" stroke-width="1.1"/>
<text x="66.0" y="700.46" font-size="7.8" font-weight="bold" text-anchor="end" font-family='"Liberation Sans", sans-serif'>0.6</text>
<rect x="80.90" y="796.97" width="15.50" height="11.33" fill="#4467b9" stroke="#1a1a1a" stroke-width="1.1"/>
<rect x="105.90" y="793.81" width="16.50" height="14.49" fill="#d6d6d6"/>
<rect x="131.90" y="762.03" width="15.50" height="46.27" fill="#e75d39" stroke="#1a1a1a" stroke-width="1.1"/>
<rect x="157.00" y="717.83" width="15.50" height="90.47" fill="#a32522" stroke="#1a1a1a" stroke-width="1.1"/>
<path d="M88.65,798.21V793.99M84.85,798.21H92.45M84.85,793.99H92.45" stroke="#1a1a1a" stroke-width="1" fill="none"/>
<path d="M114.15,795.83V791.61M110.35,795.83H117.95M110.35,791.61H117.95" stroke="#1a1a1a" stroke-width="1" fill="none"/>
<path d="M139.65,768.69V753.83M135.85,768.69H143.45M135.85,753.83H143.45" stroke="#1a1a1a" stroke-width="1" fill="none"/>
<path d="M164.75,721.37V713.85M160.95,721.37H168.55M160.95,713.85H168.55" stroke="#1a1a1a" stroke-width="1" fill="none"/>
<circle cx="88.70" cy="788.00" r="2.2" fill="#000"/>
<circle cx="86.60" cy="795.40" r="2.2" fill="#000"/>
<circle cx="82.70" cy="798.70" r="2.2" fill="#000"/>
<circle cx="90.80" cy="798.90" r="2.2" fill="#000"/>
<circle cx="95.10" cy="796.70" r="2.2" fill="#000"/>
<circle cx="107.80" cy="788.40" r="2.2" fill="#000"/>
<circle cx="120.60" cy="790.10" r="2.2" fill="#000"/>
<circle cx="114.20" cy="792.30" r="2.2" fill="#000"/>
<circle cx="120.60" cy="796.50" r="2.2" fill="#000"/>
<circle cx="107.80" cy="799.60" r="2.2" fill="#000"/>
<circle cx="133.00" cy="746.60" r="2.2" fill="#000"/>
<circle cx="145.70" cy="746.60" r="2.2" fill="#000"/>
<circle cx="139.50" cy="755.80" r="2.2" fill="#000"/>
<circle cx="139.50" cy="767.70" r="2.2" fill="#000"/>
<circle cx="139.50" cy="787.10" r="2.2" fill="#000"/>
<circle cx="158.10" cy="706.00" r="2.2" fill="#000"/>
<circle cx="171.20" cy="710.00" r="2.2" fill="#000"/>
<circle cx="165.10" cy="719.20" r="2.2" fill="#000"/>
<circle cx="158.50" cy="726.80" r="2.2" fill="#000"/>
<circle cx="170.80" cy="721.70" r="2.2" fill="#000"/>
<line x1="71.2" y1="808.3" x2="181.8" y2="808.3" stroke="#3a3a3a" stroke-width="1.25"/>
<line x1="88.9" y1="669.9" x2="164.8" y2="669.9" stroke="#2e2e2e" stroke-width="1.2"/>
<path d="M118.90,660.60L118.90,665.20M116.91,661.75L120.89,664.05M120.89,661.75L116.91,664.05M124.20,660.60L124.20,665.20M122.21,661.75L126.19,664.05M126.19,661.75L122.21,664.05M129.50,660.60L129.50,665.20M127.51,661.75L131.49,664.05M131.49,661.75L127.51,664.05M134.80,660.60L134.80,665.20M132.81,661.75L136.79,664.05M136.79,661.75L132.81,664.05" stroke="#111" stroke-width="1.3" fill="none" stroke-linecap="butt"/>
<line x1="88.9" y1="693.3" x2="136.9" y2="693.3" stroke="#2e2e2e" stroke-width="1.2"/>
<path d="M107.60,683.80L107.60,688.40M105.61,684.95L109.59,687.25M109.59,684.95L105.61,687.25M112.90,683.80L112.90,688.40M110.91,684.95L114.89,687.25M114.89,684.95L110.91,687.25M118.20,683.80L118.20,688.40M116.21,684.95L120.19,687.25M120.19,684.95L116.21,687.25" stroke="#111" stroke-width="1.3" fill="none" stroke-linecap="butt"/>
<line x1="141.7" y1="693.3" x2="164.8" y2="693.3" stroke="#2e2e2e" stroke-width="1.2"/>
<path d="M145.30,683.80L145.30,688.40M143.31,684.95L147.29,687.25M147.29,684.95L143.31,687.25M150.60,683.80L150.60,688.40M148.61,684.95L152.59,687.25M152.59,684.95L148.61,687.25M155.90,683.80L155.90,688.40M153.91,684.95L157.89,687.25M157.89,684.95L153.91,687.25M161.20,683.80L161.20,688.40M159.21,684.95L163.19,687.25M163.19,684.95L159.21,687.25" stroke="#111" stroke-width="1.3" fill="none" stroke-linecap="butt"/>
<line x1="89" y1="734.5" x2="114" y2="734.5" stroke="#2e2e2e" stroke-width="1"/>
<text x="101.3" y="728.8" font-size="9" text-anchor="middle" font-family='"Liberation Sans", sans-serif'>ns</text>
<text transform="translate(38.4,739.8) rotate(-90)" font-size="11.85" text-anchor="middle" font-family='"Liberation Sans", sans-serif'>%Apoptosis</text>
<text x="27" y="828" font-size="10.5" font-family='"Liberation Sans", sans-serif'>ACM</text>
<text transform="translate(84.9,828.3) rotate(-40)" font-size="10" text-anchor="middle" font-family='"Liberation Sans", sans-serif'>CON</text>
<text transform="translate(111.7,829.9) rotate(-40)" font-size="10" text-anchor="middle" font-family='"Liberation Sans", sans-serif'>C4</text>
<text transform="translate(140.8,829.5) rotate(-40)" font-size="10" text-anchor="middle" font-family='"Liberation Sans", sans-serif'>PFF</text>
<text transform="translate(176.9,827.3) rotate(-40)" font-size="10" text-anchor="middle" font-family='"Liberation Sans", sans-serif'>PFF+C4</text>
<path d="M12.2,551 L12.2,564 A42.75,24.7 0 0 0 97.7,564 L97.7,551 Z" fill="#f4dce8" stroke="#9a9a9a" stroke-width="0.6"/>
<path d="M13.399999999999999,565.5 A41.55,22.8 0 0 0 96.5,565.5" fill="none" stroke="#e4a4bd" stroke-width="1.7"/>
<ellipse cx="54.95" cy="551" rx="42.75" ry="24.7" fill="#e9efee" stroke="#8f8f8f" stroke-width="0.7"/>
<ellipse cx="54.95" cy="551.6" rx="41.45" ry="23.3" fill="none" stroke="#b0b0b0" stroke-width="0.5"/>
<ellipse cx="54.95" cy="555.2" rx="41.15" ry="19.2" fill="#f5dce9" stroke="#e2a4bf" stroke-width="0.9"/>
<clipPath id="clipA"><ellipse cx="54.95" cy="555.2" rx="41.15" ry="19.2"/><path d="M13.2,553 A41.75,23.5 0 0 0 96.7,553 L96.7,563 A41.75,23.3 0 0 1 13.2,563 Z"/></clipPath>
<g clip-path="url(#clipA)">
<path d="M57.0,545.2Q52.6,548.8 51.4,550.4T53.5,557.8M57.0,545.2Q57.9,549.1 58.3,552.4T53.5,557.8M29.0,557.8Q31.3,561.4 32.8,566.0T41.0,569.8M29.0,557.8Q33.1,558.3 38.0,560.8T41.0,569.8M29.0,557.8Q34.6,555.2 36.8,555.3T38.1,547.3M29.0,557.8Q30.4,554.6 30.8,550.1T38.1,547.3M29.0,557.8Q24.4,561.6 21.9,561.8T23.4,569.8M29.0,557.8Q30.1,561.6 29.0,565.1T23.4,569.8M71.8,558.5Q70.5,562.0 71.6,565.4T77.4,569.0M71.8,558.5Q75.4,560.4 79.4,561.2T77.4,569.0M71.8,558.5Q66.0,555.5 62.8,553.2T53.5,557.8M71.8,558.5Q64.9,559.3 62.5,561.3T53.5,557.8M71.8,558.5Q76.2,558.2 79.4,559.0T80.9,551.5M71.8,558.5Q72.6,553.5 73.4,551.2T80.9,551.5M41.0,569.8Q46.0,573.2 48.3,576.8T57.8,573.3M41.0,569.8Q46.7,569.2 50.4,566.9T57.8,573.3M41.0,569.8Q46.3,569.9 50.8,567.5T53.5,557.8M41.0,569.8Q43.1,565.5 44.9,561.4T53.5,557.8M41.0,569.8Q35.7,566.3 32.2,566.3T23.4,569.8M41.0,569.8Q36.5,573.0 32.2,574.8T23.4,569.8M41.0,569.8Q38.5,574.9 37.7,577.3T45.0,581.0M41.0,569.8Q45.1,572.1 47.5,573.8T45.0,581.0M41.0,569.8Q36.6,571.2 31.4,572.2T30.0,582.0M41.0,569.8Q38.6,576.1 39.2,579.2T30.0,582.0M57.8,573.3Q60.8,568.8 60.4,564.2T53.5,557.8M57.8,573.3Q53.9,569.8 51.9,566.6T53.5,557.8M57.8,573.3Q59.7,576.3 61.1,579.9T68.3,581.7M57.8,573.3Q60.9,575.1 65.1,574.9T68.3,581.7M57.8,573.3Q52.2,573.5 49.7,574.2T45.0,581.0M57.8,573.3Q54.4,578.3 54.3,582.0T45.0,581.0M77.4,569.0Q82.3,565.3 83.7,561.2T80.9,551.5M77.4,569.0Q74.5,562.8 73.7,559.2T80.9,551.5M77.4,569.0Q73.8,572.8 69.5,573.0T68.3,581.7M77.4,569.0Q75.4,573.2 75.7,577.4T68.3,581.7M77.4,569.0Q78.3,572.8 78.9,574.9T85.0,575.0M77.4,569.0Q79.6,568.8 83.5,569.0T85.0,575.0M53.5,557.8Q50.5,554.0 48.1,549.2T38.1,547.3M53.5,557.8Q47.2,557.5 42.9,556.7T38.1,547.3M23.4,569.8Q21.4,576.1 22.3,578.3T30.0,582.0M23.4,569.8Q29.3,572.8 31.4,573.4T30.0,582.0M68.3,581.7Q73.9,580.8 78.2,582.2T85.0,575.0M68.3,581.7Q70.9,575.7 74.8,573.8T85.0,575.0M45.0,581.0Q39.3,578.6 37.3,577.9T30.0,582.0M45.0,581.0Q39.1,582.1 37.7,584.7T30.0,582.0M57.0,545.2Q58.8,545.4 62.8,543.8M62.8,543.8Q63.7,543.3 65.7,543.5M62.8,543.8Q64.9,544.4 65.3,542.6M57.0,545.2Q57.7,546.3 60.4,549.3M60.4,549.3Q62.4,549.3 62.8,551.0M60.4,549.3Q62.6,548.7 64.8,549.9M57.0,545.2Q55.7,548.0 54.3,548.4M54.3,548.4Q52.3,548.5 51.3,549.3M54.3,548.4Q54.5,550.3 54.4,550.9M57.0,545.2Q54.9,546.7 51.4,545.8M51.4,545.8Q50.5,545.7 48.1,544.5M51.4,545.8Q49.7,545.4 48.7,547.2M57.0,545.2Q54.1,544.3 52.4,542.5M52.4,542.5Q53.3,542.4 52.2,540.0M52.4,542.5Q51.6,540.6 52.2,540.1M57.0,545.2Q58.1,544.1 58.6,541.2M58.6,541.2Q60.2,541.1 61.0,539.7M58.6,541.2Q58.8,540.7 57.0,538.8M29.0,557.8Q31.4,559.0 35.3,558.8M35.3,558.8Q38.5,558.4 39.5,558.4M35.3,558.8Q38.1,558.0 39.7,558.8M29.0,557.8Q32.0,559.9 33.0,560.6M33.0,560.6Q35.9,561.1 36.6,560.9M33.0,560.6Q33.5,560.0 35.8,561.7M29.0,557.8Q26.3,560.5 23.6,561.0M23.6,561.0Q22.7,561.6 20.3,563.5M23.6,561.0Q22.1,562.5 22.0,563.5M29.0,557.8Q25.0,559.2 22.9,558.7M22.9,558.7Q21.5,560.3 19.7,559.9M22.9,558.7Q20.9,559.3 18.8,559.7M29.0,557.8Q27.6,555.4 26.6,554.5M26.6,554.5Q24.2,554.2 23.3,554.1M26.6,554.5Q26.0,553.4 26.3,552.3M29.0,557.8Q30.0,555.6 33.0,553.2M33.0,553.2Q33.8,551.7 33.4,550.3M33.0,553.2Q35.4,551.6 35.9,550.4M71.8,558.5Q75.1,559.2 78.3,558.9M78.3,558.9Q80.1,560.0 82.1,559.0M78.3,558.9Q81.3,559.1 82.2,560.4M71.8,558.5Q74.4,560.2 75.4,563.7M75.4,563.7Q76.4,563.8 79.4,565.0M75.4,563.7Q78.4,565.3 80.0,564.9M71.8,558.5Q71.3,560.2 70.1,563.7M70.1,563.7Q67.4,565.9 66.1,565.9M70.1,563.7Q71.1,566.0 69.8,566.8M71.8,558.5Q68.8,558.7 65.7,559.8M65.7,559.8Q65.1,559.5 63.5,561.6M65.7,559.8Q62.8,559.6 62.3,560.2M71.8,558.5Q69.4,557.4 69.1,554.0M69.1,554.0Q68.4,551.8 69.5,550.7M69.1,554.0Q66.6,552.6 65.1,553.0M71.8,558.5Q74.3,555.3 75.2,553.3M75.2,553.3Q75.0,551.8 74.4,549.4M75.2,553.3Q75.2,551.8 74.3,550.7M41.0,569.8Q45.0,569.5 48.4,567.8M48.4,567.8Q48.5,567.0 50.8,564.4M48.4,567.8Q50.4,568.2 52.2,566.5M41.0,569.8Q42.8,570.7 44.5,572.9M44.5,572.9Q44.7,572.3 47.1,573.2M44.5,572.9Q46.4,572.9 47.0,573.9M41.0,569.8Q39.2,570.4 38.2,573.4M38.2,573.4Q38.7,574.5 38.0,575.3M38.2,573.4Q39.3,573.6 38.3,575.8M41.0,569.8Q37.9,570.0 34.9,568.6M34.9,568.6Q33.5,569.7 31.3,568.4M34.9,568.6Q33.3,569.0 30.8,568.7M41.0,569.8Q38.2,567.0 37.6,566.1M37.6,566.1Q35.1,565.0 33.8,565.5M37.6,566.1Q36.5,566.1 33.7,565.4M41.0,569.8Q41.5,567.7 43.0,565.8M43.0,565.8Q42.0,565.7 42.1,563.4M43.0,565.8Q43.9,566.4 46.1,564.9M57.8,573.3Q59.6,572.7 63.8,572.6M63.8,572.6Q64.8,572.4 67.2,572.1M63.8,572.6Q63.6,571.4 65.4,570.6M57.8,573.3Q59.3,573.9 61.7,575.7M61.7,575.7Q63.3,576.9 63.7,577.3M61.7,575.7Q62.3,576.4 63.4,577.9M57.8,573.3Q56.2,574.9 53.5,575.8M53.5,575.8Q54.3,577.4 53.2,578.5M53.5,575.8Q50.9,576.2 50.0,576.4M57.8,573.3Q54.8,574.1 50.3,573.3M50.3,573.3Q48.2,573.5 45.3,572.7M50.3,573.3Q47.9,573.5 47.3,574.5M57.8,573.3Q55.1,571.7 52.2,569.5M52.2,569.5Q50.8,566.9 49.5,566.7M52.2,569.5Q51.5,567.9 50.8,566.1M57.8,573.3Q59.9,571.2 61.0,570.2M61.0,570.2Q61.3,568.5 60.6,568.2M61.0,570.2Q62.5,569.3 64.1,568.9M77.4,569.0Q81.6,569.2 84.5,568.9M84.5,568.9Q85.2,568.6 87.7,569.5M84.5,568.9Q86.3,568.3 87.8,570.0M77.4,569.0Q80.0,570.9 81.9,571.8M81.9,571.8Q82.7,572.7 83.5,573.7M81.9,571.8Q83.9,571.7 84.1,573.0M77.4,569.0Q73.2,570.7 71.3,572.6M71.3,572.6Q68.4,572.2 65.9,573.0M71.3,572.6Q69.6,574.7 69.2,576.3M77.4,569.0Q75.3,568.8 71.1,570.4M71.1,570.4Q70.2,570.5 67.5,569.6M71.1,570.4Q69.5,570.4 67.9,572.7M77.4,569.0Q74.7,567.1 72.2,566.1M72.2,566.1Q70.1,566.9 68.8,566.1M72.2,566.1Q71.1,565.5 68.2,566.8M77.4,569.0Q81.1,566.8 82.8,565.5M82.8,565.5Q85.2,564.6 85.2,563.2M82.8,565.5Q83.4,563.2 85.1,563.1M53.5,557.8Q56.5,558.0 60.6,556.0M60.6,556.0Q62.0,554.3 63.4,554.0M60.6,556.0Q63.8,555.8 65.0,554.0M53.5,557.8Q56.1,560.6 56.6,563.1M56.6,563.1Q57.2,564.3 56.7,565.8M56.6,563.1Q56.1,563.8 56.5,566.6M53.5,557.8Q51.4,558.7 49.4,560.4M49.4,560.4Q49.7,561.0 47.8,562.7M49.4,560.4Q48.3,560.6 46.8,561.3M53.5,557.8Q50.2,559.3 48.2,558.9M48.2,558.9Q47.8,560.4 45.5,559.4M48.2,558.9Q46.2,558.2 45.7,559.6M53.5,557.8Q51.3,555.6 50.3,554.7M50.3,554.7Q50.0,553.3 48.5,552.4M50.3,554.7Q48.9,553.5 48.1,553.1M53.5,557.8Q55.1,554.7 54.5,553.5M54.5,553.5Q55.7,551.5 55.1,550.9M54.5,553.5Q53.9,552.3 53.8,551.3M38.1,547.3Q42.5,547.2 45.2,549.3M45.2,549.3Q48.2,548.4 49.4,547.7M45.2,549.3Q46.4,551.0 48.1,550.6M38.1,547.3Q40.2,549.4 40.1,552.8M40.1,552.8Q41.6,554.0 43.1,554.4M40.1,552.8Q39.2,555.0 37.7,555.9M38.1,547.3Q35.4,550.2 35.0,551.7M35.0,551.7Q35.3,552.9 34.9,555.1M35.0,551.7Q35.6,553.4 35.6,554.2M38.1,547.3Q35.7,548.1 33.1,548.5M33.1,548.5Q32.2,547.8 30.8,549.5M33.1,548.5Q33.1,549.5 30.8,549.9M38.1,547.3Q36.8,544.3 36.7,542.6M36.7,542.6Q37.4,540.2 39.0,540.1M36.7,542.6Q36.1,540.6 35.9,539.7M38.1,547.3Q39.8,543.9 42.9,542.7M42.9,542.7Q44.1,540.4 44.4,539.7M42.9,542.7Q45.2,541.3 47.4,541.3M80.9,551.5Q84.4,551.7 86.4,553.1M86.4,553.1Q87.8,554.0 90.2,552.8M86.4,553.1Q87.1,553.3 89.2,553.9M80.9,551.5Q81.5,554.0 83.9,556.9M83.9,556.9Q85.2,557.1 88.2,559.5M83.9,556.9Q86.8,558.5 87.9,558.2M80.9,551.5Q79.3,553.4 75.7,556.0M75.7,556.0Q75.9,557.0 74.9,560.1M75.7,556.0Q73.6,556.5 72.0,557.8M80.9,551.5Q78.0,551.6 76.1,552.5M76.1,552.5Q76.2,551.3 74.0,551.5M76.1,552.5Q75.4,552.9 73.2,553.7M80.9,551.5Q78.1,551.0 75.9,548.4M75.9,548.4Q75.2,547.1 72.5,548.1M75.9,548.4Q74.8,546.6 72.3,546.9M80.9,551.5Q82.3,549.0 81.7,547.7M81.7,547.7Q82.3,546.0 83.6,545.5M81.7,547.7Q82.4,547.5 84.3,546.3M23.4,569.8Q25.1,570.1 29.2,569.2M29.2,569.2Q31.7,568.8 32.1,570.7M29.2,569.2Q31.6,569.5 31.9,567.7M23.4,569.8Q24.9,571.5 26.7,573.3M26.7,573.3Q27.2,575.0 26.3,575.4M26.7,573.3Q27.0,574.3 26.8,576.1M23.4,569.8Q23.0,570.9 21.1,574.0M21.1,574.0Q20.9,574.4 21.8,576.9M21.1,574.0Q21.5,576.4 22.7,576.4M23.4,569.8Q19.0,567.9 15.8,568.0M15.8,568.0Q14.2,568.6 11.6,569.4M15.8,568.0Q13.9,568.7 11.5,568.6M23.4,569.8Q22.6,566.2 21.0,564.4M21.0,564.4Q21.7,562.7 22.1,561.6M21.0,564.4Q20.6,562.4 21.4,561.6M23.4,569.8Q24.5,566.6 25.3,564.2M25.3,564.2Q25.4,561.6 25.6,560.2M25.3,564.2Q28.1,562.1 28.6,561.8M68.3,581.7Q72.8,582.6 75.8,581.6M75.8,581.6Q76.1,579.7 78.3,579.4M75.8,581.6Q78.3,582.5 78.8,584.0M68.3,581.7Q68.4,584.7 69.8,586.3M69.8,586.3Q69.2,587.6 68.1,588.2M69.8,586.3Q70.0,586.6 72.1,588.2M68.3,581.7Q67.6,583.4 66.1,586.5M66.1,586.5Q67.5,586.9 68.0,588.8M66.1,586.5Q66.8,587.9 66.1,589.1M68.3,581.7Q65.6,582.5 63.3,583.1M63.3,583.1Q61.3,583.6 60.8,583.2M63.3,583.1Q61.7,584.7 60.9,584.1M68.3,581.7Q65.9,579.5 64.1,577.8M64.1,577.8Q63.8,575.3 64.0,574.3M64.1,577.8Q62.5,577.5 63.2,575.3M68.3,581.7Q69.7,580.1 71.6,576.7M71.6,576.7Q71.2,575.5 73.0,574.2M71.6,576.7Q72.3,575.6 74.9,573.8M45.0,581.0Q47.4,580.2 51.5,580.5M51.5,580.5Q52.8,580.4 55.9,580.3M51.5,580.5Q52.8,580.3 55.5,582.0M45.0,581.0Q45.6,582.9 46.3,586.9M46.3,586.9Q46.1,588.5 43.9,589.5M46.3,586.9Q46.2,587.5 44.8,589.5M45.0,581.0Q44.2,582.8 41.7,586.1M41.7,586.1Q41.9,587.4 42.0,589.2M41.7,586.1Q42.7,588.5 42.6,588.9M45.0,581.0Q42.5,580.8 38.8,582.8M38.8,582.8Q37.4,582.6 35.6,582.2M38.8,582.8Q36.8,583.2 35.3,583.2M45.0,581.0Q43.0,578.7 41.2,576.6M41.2,576.6Q39.0,575.8 37.0,576.2M41.2,576.6Q40.8,574.2 40.7,573.3M45.0,581.0Q45.4,579.1 47.6,577.5M47.6,577.5Q47.2,575.3 46.9,575.3M47.6,577.5Q49.0,577.5 49.3,576.1M30.0,582.0Q32.6,581.7 35.2,582.0M35.2,582.0Q36.9,583.9 36.9,583.4M35.2,582.0Q36.0,583.7 38.2,583.1M30.0,582.0Q33.0,583.7 34.0,587.1M34.0,587.1Q33.0,588.7 34.0,591.1M34.0,587.1Q35.1,588.0 34.2,590.0M30.0,582.0Q28.1,584.5 26.2,584.9M26.2,584.9Q25.9,585.5 25.5,586.9M26.2,584.9Q25.5,587.0 26.4,586.9M30.0,582.0Q25.4,582.3 22.4,581.2M22.4,581.2Q20.8,581.7 18.6,582.9M22.4,581.2Q21.0,580.9 19.3,578.7M30.0,582.0Q27.3,579.7 24.1,578.0M24.1,578.0Q24.6,576.7 22.8,575.1M24.1,578.0Q21.7,576.3 19.5,576.2M30.0,582.0Q32.5,580.0 33.4,579.1M33.4,579.1Q35.1,578.7 36.3,577.6M33.4,579.1Q32.7,577.4 34.2,577.5M85.0,575.0Q88.2,576.2 91.3,575.4M91.3,575.4Q93.0,573.6 94.0,574.1M91.3,575.4Q91.5,574.2 93.6,573.6M85.0,575.0Q87.5,576.2 89.6,578.7M89.6,578.7Q89.7,581.0 91.5,581.2M89.6,578.7Q90.1,579.5 92.6,579.6M85.0,575.0Q82.1,576.3 79.6,578.8M79.6,578.8Q79.9,580.1 79.9,582.1M79.6,578.8Q78.9,580.0 76.0,580.2M85.0,575.0Q80.1,575.7 77.4,576.2M77.4,576.2Q74.6,577.4 73.8,577.2M77.4,576.2Q77.4,576.8 75.3,579.2M85.0,575.0Q82.7,573.5 80.3,571.3M80.3,571.3Q79.5,569.6 79.6,568.8M80.3,571.3Q78.7,571.8 75.7,571.3M85.0,575.0Q86.1,572.1 86.0,569.4M86.0,569.4Q86.4,567.1 88.2,566.7M86.0,569.4Q85.0,568.8 84.8,567.0" fill="none" stroke="#3a4ca6" stroke-width="0.5"/>
<path d="M57.80,545.11L56.46,542.11L56.20,545.29ZM57.58,545.65L59.56,543.09L56.42,544.75ZM56.57,545.75L60.41,546.90L57.43,544.65ZM56.22,545.01L56.05,547.70L57.78,545.39ZM57.04,544.55L52.74,545.02L56.96,545.85Z" fill="#22358e"/>
<ellipse cx="57" cy="545.2" rx="1.89" ry="1.53" fill="#22358e"/>
<path d="M28.19,557.79L28.94,560.12L29.81,557.81ZM28.50,557.29L26.47,559.39L29.50,558.31ZM29.62,557.39L26.30,555.18L28.38,558.21ZM29.68,558.15L30.80,555.54L28.32,557.45ZM28.73,558.41L32.17,558.68L29.27,557.19Z" fill="#22358e"/>
<ellipse cx="29" cy="557.8" rx="1.89" ry="1.53" fill="#22358e"/>
<path d="M71.00,558.39L71.14,561.48L72.60,558.61ZM71.59,557.88L68.10,559.31L72.01,559.12ZM72.54,558.24L70.38,555.89L71.06,558.76ZM72.39,558.95L74.49,556.25L71.21,558.05ZM71.44,559.08L74.95,559.75L72.16,557.92Z" fill="#22358e"/>
<ellipse cx="71.8" cy="558.5" rx="1.89" ry="1.53" fill="#22358e"/>
<path d="M41.80,569.72L40.60,567.16L40.20,569.88ZM41.49,570.32L44.01,567.97L40.51,569.28ZM40.59,570.36L44.62,571.49L41.41,569.24ZM40.22,569.64L40.27,572.06L41.78,569.96ZM40.93,569.15L36.80,570.08L41.07,570.45Z" fill="#22358e"/>
<ellipse cx="41" cy="569.8" rx="1.89" ry="1.53" fill="#22358e"/>
<path d="M57.05,573.06L56.72,575.47L58.55,573.54ZM57.80,572.65L53.92,573.28L57.80,573.95ZM58.61,573.33L57.98,570.20L56.99,573.27ZM57.97,573.93L60.71,572.81L57.63,572.67ZM57.14,573.67L59.74,575.54L58.46,572.93Z" fill="#22358e"/>
<ellipse cx="57.8" cy="573.3" rx="1.89" ry="1.53" fill="#22358e"/>
<path d="M78.06,569.37L79.80,566.28L76.74,568.63ZM77.52,569.64L81.48,568.50L77.28,568.36ZM76.59,568.97L77.22,572.39L78.21,569.03ZM76.84,568.53L75.09,570.74L77.96,569.47ZM77.79,568.43L74.83,567.87L77.01,569.57Z" fill="#22358e"/>
<ellipse cx="77.4" cy="569" rx="1.89" ry="1.53" fill="#22358e"/>
<path d="M53.97,558.19L55.76,556.04L53.03,557.41ZM53.18,558.28L56.28,558.99L53.82,557.32ZM52.83,557.88L53.86,559.79L54.17,557.72ZM53.13,557.35L50.72,559.23L53.87,558.25ZM53.96,557.40L51.46,556.28L53.04,558.20Z" fill="#8a90cc"/>
<ellipse cx="53.5" cy="557.8" rx="1.58" ry="1.27" fill="#8a90cc"/>
<path d="M37.63,546.91L36.15,548.80L38.57,547.69ZM38.51,546.87L35.50,545.73L37.69,547.73ZM38.73,547.50L39.14,545.23L37.47,547.10ZM37.82,547.79L40.84,548.29L38.38,546.81ZM37.43,547.28L37.96,549.81L38.77,547.32Z" fill="#8a90cc"/>
<ellipse cx="38.1" cy="547.3" rx="1.58" ry="1.27" fill="#8a90cc"/>
<path d="M80.80,552.03L83.79,551.83L81.00,550.97ZM80.23,551.48L80.78,553.75L81.57,551.52ZM80.69,550.99L78.00,552.25L81.11,552.01ZM81.31,551.07L78.17,549.83L80.49,551.93ZM81.55,551.64L81.78,548.89L80.25,551.36Z" fill="#8a90cc"/>
<ellipse cx="80.9" cy="551.5" rx="1.58" ry="1.27" fill="#8a90cc"/>
<path d="M22.93,570.19L25.30,571.27L23.87,569.41ZM22.99,569.37L20.57,571.55L23.81,570.23ZM23.50,569.27L20.44,569.46L23.30,570.33ZM24.07,569.87L23.81,567.14L22.73,569.73ZM23.65,570.30L26.18,568.92L23.15,569.30Z" fill="#8a90cc"/>
<ellipse cx="23.4" cy="569.8" rx="1.58" ry="1.27" fill="#8a90cc"/>
<path d="M67.83,581.31L66.34,583.20L68.77,582.09ZM68.66,581.24L65.98,580.53L67.94,582.16ZM68.96,581.60L67.69,579.16L67.64,581.80ZM68.52,582.21L70.69,581.04L68.08,581.19ZM67.73,581.99L69.64,583.39L68.87,581.41Z" fill="#8a90cc"/>
<ellipse cx="68.3" cy="581.7" rx="1.58" ry="1.27" fill="#8a90cc"/>
<path d="M45.63,581.19L46.16,578.49L44.37,580.81ZM45.00,581.54L47.83,581.00L45.00,580.46ZM44.39,581.24L46.25,583.07L45.61,580.76ZM44.69,580.52L42.77,581.91L45.31,581.48ZM45.48,580.62L43.28,579.63L44.52,581.38Z" fill="#8a90cc"/>
<ellipse cx="45" cy="581" rx="1.58" ry="1.27" fill="#8a90cc"/>
<path d="M29.38,582.22L31.41,584.54L30.62,581.78ZM29.62,581.55L27.63,583.27L30.38,582.45ZM30.53,581.66L28.33,580.33L29.47,582.34ZM30.64,582.17L30.98,579.70L29.36,581.83ZM29.87,582.53L33.24,582.50L30.13,581.47Z" fill="#8a90cc"/>
<ellipse cx="30" cy="582" rx="1.58" ry="1.27" fill="#8a90cc"/>
<path d="M85.50,574.63L83.11,573.36L84.50,575.37ZM85.62,575.21L86.32,572.48L84.38,574.79ZM84.75,575.50L88.05,575.99L85.25,574.50ZM84.34,575.12L85.65,577.28L85.66,574.88ZM84.88,574.47L81.95,575.43L85.12,575.53Z" fill="#8a90cc"/>
<ellipse cx="85" cy="575" rx="1.58" ry="1.27" fill="#8a90cc"/>
</g>
<path d="M13.0,553.5 A41.95,23.3 0 0 0 96.9,553.5 L96.9,563.5 A41.95,23.6 0 0 1 13.0,563.5 Z" fill="#f4dce8" opacity="0.5"/>
<path d="M12.799999999999999,553 A42.15,23.5 0 0 0 97.10000000000001,553" fill="none" stroke="#a0a0a0" stroke-width="0.6"/>
<path d="M13.799999999999999,554.2 A41.15,22.2 0 0 0 96.10000000000001,554.2" fill="none" stroke="#c4c4c4" stroke-width="0.5"/>
<path d="M114.2,551 L114.2,564 A42.75,24.7 0 0 0 199.7,564 L199.7,551 Z" fill="#f4dce8" stroke="#9a9a9a" stroke-width="0.6"/>
<path d="M115.4,565.5 A41.55,22.8 0 0 0 198.5,565.5" fill="none" stroke="#e4a4bd" stroke-width="1.7"/>
<ellipse cx="156.95" cy="551" rx="42.75" ry="24.7" fill="#e9efee" stroke="#8f8f8f" stroke-width="0.7"/>
<ellipse cx="156.95" cy="551.6" rx="41.45" ry="23.3" fill="none" stroke="#b0b0b0" stroke-width="0.5"/>
<ellipse cx="156.95" cy="555.2" rx="41.15" ry="19.2" fill="#f5dce9" stroke="#e2a4bf" stroke-width="0.9"/>
<clipPath id="clipN"><ellipse cx="156.95" cy="555.2" rx="41.15" ry="19.2"/><path d="M115.2,553 A41.75,23.5 0 0 0 198.7,553 L198.7,563 A41.75,23.3 0 0 1 115.2,563 Z"/></clipPath>
<g clip-path="url(#clipN)">
<path d="M122.6,557.1Q125.7,556.1 126.9,556.4M126.9,556.4Q128.2,556.6 128.6,555.1M128.6,555.1Q128.1,554.3 128.8,554.3M128.6,555.1Q128.6,554.1 129.4,554.6M126.9,556.4Q127.1,558.1 129.2,557.6M129.2,557.6Q131.1,558.3 130.7,557.5M129.2,557.6Q128.8,558.4 129.9,558.6M122.6,557.1Q124.1,556.6 126.1,558.4M126.1,558.4Q127.8,558.7 128.5,558.9M128.5,558.9Q128.3,559.5 129.8,559.5M128.5,558.9Q130.3,558.8 130.1,559.1M126.1,558.4Q126.9,558.3 128.2,559.5M128.2,559.5Q129.3,560.5 129.1,560.5M128.2,559.5Q128.8,559.9 128.7,560.6M122.6,557.1Q122.3,558.6 123.9,560.5M123.9,560.5Q123.9,561.0 123.3,562.7M123.3,562.7Q123.5,563.1 123.1,564.0M123.3,562.7Q122.0,563.7 122.2,564.0M123.9,560.5Q123.6,562.6 123.4,562.4M123.4,562.4Q123.0,563.6 124.3,563.4M123.4,562.4Q121.8,562.9 122.1,563.0M122.6,557.1Q121.3,559.0 120.0,560.3M120.0,560.3Q118.5,561.8 117.4,561.2M117.4,561.2Q116.7,562.3 116.4,562.2M117.4,561.2Q116.6,560.8 116.5,562.5M120.0,560.3Q118.7,561.1 119.6,562.3M119.6,562.3Q119.3,562.3 119.6,563.5M119.6,562.3Q121.0,562.9 120.2,563.5M122.6,557.1Q120.1,557.4 118.2,559.0M118.2,559.0Q118.3,560.5 116.9,561.3M116.9,561.3Q116.0,563.1 116.3,562.7M116.9,561.3Q117.6,562.8 116.7,562.8M118.2,559.0Q117.2,558.6 115.9,560.1M115.9,560.1Q116.0,559.5 114.5,560.1M115.9,560.1Q115.3,559.7 115.0,560.8M122.6,557.1Q119.6,556.4 117.7,556.9M117.7,556.9Q116.1,557.6 115.0,557.5M115.0,557.5Q115.2,558.4 113.5,557.6M115.0,557.5Q115.5,558.9 114.1,558.8M117.7,556.9Q116.6,556.4 115.0,558.3M115.0,558.3Q115.2,558.5 114.8,560.0M115.0,558.3Q114.1,559.5 114.6,559.4M122.6,557.1Q122.5,556.6 120.4,554.8M120.4,554.8Q119.5,555.1 118.0,554.1M118.0,554.1Q118.0,554.5 116.6,553.3M118.0,554.1Q117.3,554.8 116.4,554.3M120.4,554.8Q119.7,553.5 118.7,553.3M118.7,553.3Q118.1,552.1 117.6,553.0M118.7,553.3Q118.2,553.0 117.8,552.7M122.6,557.1Q121.9,556.0 123.6,553.3M123.6,553.3Q124.2,552.9 124.1,551.0M124.1,551.0Q125.1,549.3 123.9,549.7M124.1,551.0Q123.3,550.6 124.8,549.7M123.6,553.3Q124.1,553.3 125.4,550.9M125.4,550.9Q126.9,549.2 126.5,549.6M125.4,550.9Q125.9,551.3 127.1,550.0M122.6,557.1Q124.2,556.6 125.8,554.8M125.8,554.8Q125.9,554.0 126.4,553.0M126.4,553.0Q127.7,552.4 127.4,552.3M126.4,553.0Q126.6,553.6 126.8,552.0M125.8,554.8Q126.6,553.8 128.3,553.7M128.3,553.7Q129.2,553.9 129.4,552.7M128.3,553.7Q129.4,553.2 128.7,552.4M142.2,547.3Q143.0,546.1 146.2,546.5M146.2,546.5Q147.6,547.6 148.3,547.3M148.3,547.3Q148.9,548.2 148.8,548.4M148.3,547.3Q149.3,547.1 149.3,548.2M146.2,546.5Q147.9,545.5 148.5,546.5M148.5,546.5Q149.6,547.3 149.4,546.1M148.5,546.5Q149.8,547.4 149.7,546.8M142.2,547.3Q143.2,548.1 145.2,549.3M145.2,549.3Q146.5,550.7 147.2,550.0M147.2,550.0Q146.7,548.9 148.5,549.6M147.2,550.0Q148.6,550.3 148.0,550.8M145.2,549.3Q146.5,550.3 147.4,549.1M147.4,549.1Q147.6,548.4 148.3,549.7M147.4,549.1Q147.1,548.0 148.4,549.2M142.2,547.3Q142.4,550.0 144.4,550.6M144.4,550.6Q145.0,549.8 147.5,551.4M147.5,551.4Q148.6,551.1 148.7,552.3M147.5,551.4Q148.9,551.9 149.3,550.7M144.4,550.6Q144.8,551.9 144.5,552.3M144.5,552.3Q144.1,554.0 144.7,553.4M144.5,552.3Q143.2,553.0 144.2,553.0M142.2,547.3Q140.5,548.9 139.8,549.4M139.8,549.4Q139.6,549.2 139.5,551.2M139.5,551.2Q139.5,552.2 139.7,552.3M139.5,551.2Q139.6,552.0 140.3,552.2M139.8,549.4Q138.7,550.5 138.2,550.3M138.2,550.3Q137.7,549.7 136.9,550.1M138.2,550.3Q138.5,551.6 137.9,551.3M142.2,547.3Q141.2,548.9 138.0,548.8M138.0,548.8Q136.6,550.0 135.6,549.3M135.6,549.3Q135.1,550.6 134.2,549.9M135.6,549.3Q133.7,548.6 134.3,549.1M138.0,548.8Q137.5,550.4 135.6,550.0M135.6,550.0Q136.2,551.6 135.3,551.4M135.6,550.0Q135.8,551.0 134.3,550.5M142.2,547.3Q139.4,545.4 137.4,545.5M137.4,545.5Q135.2,545.4 134.5,544.2M134.5,544.2Q134.5,543.9 134.1,542.9M134.5,544.2Q133.1,544.5 133.0,543.5M137.4,545.5Q135.6,545.3 135.8,543.6M135.8,543.6Q135.9,544.0 135.6,542.5M135.8,543.6Q135.8,543.2 135.9,542.3M142.2,547.3Q140.2,546.7 139.7,545.1M139.7,545.1Q138.5,544.6 137.8,544.1M137.8,544.1Q138.5,543.8 136.7,544.1M137.8,544.1Q137.8,543.3 136.4,544.2M139.7,545.1Q139.2,543.3 138.6,543.7M138.6,543.7Q138.8,543.6 137.2,543.5M138.6,543.7Q139.1,543.2 138.2,543.0M142.2,547.3Q144.0,546.7 144.4,543.9M144.4,543.9Q143.6,542.3 144.4,542.2M144.4,542.2Q144.1,542.7 143.6,541.6M144.4,542.2Q145.3,540.5 144.2,541.0M144.4,543.9Q144.2,544.1 146.0,542.2M146.0,542.2Q146.4,542.7 146.3,541.0M146.0,542.2Q146.4,541.0 147.2,541.5M142.2,547.3Q144.0,545.4 147.2,545.6M147.2,545.6Q149.1,545.8 149.1,544.0M149.1,544.0Q150.5,544.3 150.5,543.7M149.1,544.0Q148.9,542.7 150.8,543.1M147.2,545.6Q149.5,545.2 151.0,545.7M151.0,545.7Q151.2,545.5 153.3,546.1M151.0,545.7Q151.8,544.7 152.6,545.2M165.4,543.8Q167.7,542.4 169.1,543.4M169.1,543.4Q168.9,544.5 171.0,543.7M171.0,543.7Q172.5,544.5 172.2,543.4M171.0,543.7Q170.5,544.6 171.9,543.4M169.1,543.4Q170.1,543.4 171.2,544.1M171.2,544.1Q171.8,543.7 171.9,545.0M171.2,544.1Q172.2,544.2 172.3,544.1M165.4,543.8Q167.2,544.5 170.0,545.6M170.0,545.6Q172.2,545.1 172.7,545.4M172.7,545.4Q172.9,545.9 173.9,544.6M172.7,545.4Q172.3,545.8 174.0,544.3M170.0,545.6Q170.9,545.8 171.9,547.0M171.9,547.0Q172.2,548.4 173.1,547.4M171.9,547.0Q170.8,547.2 171.7,548.4M165.4,543.8Q165.8,544.7 165.2,546.5M165.2,546.5Q165.3,546.5 163.9,547.2M163.9,547.2Q164.6,547.6 163.7,547.8M163.9,547.2Q164.7,546.9 163.5,547.9M165.2,546.5Q164.2,547.8 164.8,547.8M164.8,547.8Q163.6,547.1 164.4,548.3M164.8,547.8Q164.1,547.4 164.5,548.5M165.4,543.8Q164.8,545.5 162.7,546.9M162.7,546.9Q163.2,547.5 162.5,548.6M162.5,548.6Q163.0,548.5 162.1,549.3M162.5,548.6Q162.0,547.9 161.6,549.5M162.7,546.9Q162.2,546.6 159.9,547.4M159.9,547.4Q159.0,547.1 158.7,548.4M159.9,547.4Q158.0,547.7 158.5,547.9M165.4,543.8Q162.4,544.9 161.2,545.1M161.2,545.1Q159.3,545.4 158.2,544.6M158.2,544.6Q156.2,545.6 156.3,544.7M158.2,544.6Q157.8,544.2 157.3,543.5M161.2,545.1Q161.3,544.6 159.2,545.5M159.2,545.5Q158.3,546.6 158.6,546.1M159.2,545.5Q159.5,545.1 158.8,546.2M165.4,543.8Q163.2,543.7 160.7,543.6M160.7,543.6Q160.6,543.8 158.7,542.9M158.7,542.9Q158.2,543.1 157.7,543.2M158.7,542.9Q157.9,542.0 157.6,542.9M160.7,543.6Q158.3,543.5 157.7,543.1M157.7,543.1Q157.8,543.8 156.5,542.4M157.7,543.1Q157.6,543.1 155.9,543.0M165.4,543.8Q164.6,541.7 162.4,540.4M162.4,540.4Q161.0,541.1 159.9,539.4M159.9,539.4Q160.2,539.6 159.0,538.1M159.9,539.4Q160.2,540.6 158.3,539.7M162.4,540.4Q161.5,539.5 159.8,539.3M159.8,539.3Q159.1,539.0 158.7,538.7M159.8,539.3Q160.3,540.1 158.5,539.6M165.4,543.8Q167.2,543.1 167.4,540.6M167.4,540.6Q168.7,539.6 169.4,539.9M169.4,539.9Q170.1,540.8 170.5,539.8M169.4,539.9Q170.0,539.6 170.5,539.7M167.4,540.6Q168.1,540.6 169.8,540.0M169.8,540.0Q171.3,539.5 170.6,539.0M169.8,540.0Q170.4,538.8 170.8,539.3M165.4,543.8Q166.0,542.4 167.7,541.5M167.7,541.5Q166.9,541.0 168.2,540.2M168.2,540.2Q168.8,540.2 169.1,539.6M168.2,540.2Q167.9,539.8 167.8,539.3M167.7,541.5Q168.0,540.4 169.3,540.5M169.3,540.5Q169.2,540.3 169.7,539.6M169.3,540.5Q170.1,539.4 169.2,539.6M182.2,545.9Q183.9,547.1 186.7,546.0M186.7,546.0Q187.2,544.6 189.4,545.3M189.4,545.3Q189.1,545.2 190.9,545.7M189.4,545.3Q189.3,544.4 191.1,544.7M186.7,546.0Q186.8,546.4 188.5,547.6M188.5,547.6Q189.5,548.8 190.0,548.4M188.5,547.6Q189.2,548.8 188.8,548.9M182.2,545.9Q184.3,547.7 185.1,548.4M185.1,548.4Q186.0,548.0 185.1,550.0M185.1,550.0Q184.7,551.6 184.4,550.9M185.1,550.0Q185.6,551.4 184.9,550.9M185.1,548.4Q185.6,549.1 186.3,550.0M186.3,550.0Q186.2,550.6 186.5,550.9M186.3,550.0Q187.5,551.2 187.2,550.7M182.2,545.9Q181.8,547.1 183.0,549.1M183.0,549.1Q184.1,548.8 184.9,550.5M184.9,550.5Q185.7,551.8 184.9,551.5M184.9,550.5Q184.7,552.0 184.8,551.5M183.0,549.1Q184.0,549.5 184.7,549.9M184.7,549.9Q185.0,551.6 185.1,550.8M184.7,549.9Q185.7,549.9 185.7,550.3M182.2,545.9Q180.8,548.6 180.2,549.1M180.2,549.1Q178.3,549.5 178.3,550.6M178.3,550.6Q178.1,552.0 177.5,551.6M178.3,550.6Q177.4,550.9 176.8,550.5M180.2,549.1Q179.1,550.1 177.8,549.5M177.8,549.5Q178.5,550.7 176.9,550.3M177.8,549.5Q178.1,550.1 176.6,549.7M182.2,545.9Q180.4,546.0 176.8,546.5M176.8,546.5Q175.8,547.3 174.7,548.0M174.7,548.0Q174.9,548.8 174.4,549.1M174.7,548.0Q174.6,547.6 173.7,549.3M176.8,546.5Q174.6,547.4 173.4,547.4M173.4,547.4Q173.9,548.2 172.8,548.7M173.4,547.4Q172.5,547.5 171.6,547.4M182.2,545.9Q179.9,546.7 177.5,545.2M177.5,545.2Q175.4,544.0 175.0,544.5M175.0,544.5Q173.6,543.4 174.1,543.8M175.0,544.5Q174.5,545.0 173.4,544.0M177.5,545.2Q177.3,545.2 175.7,546.0M175.7,546.0Q174.3,545.6 174.5,546.2M175.7,546.0Q175.7,546.2 175.3,547.1M182.2,545.9Q180.0,545.5 180.0,543.2M180.0,543.2Q179.2,542.4 178.8,541.1M178.8,541.1Q179.3,541.7 177.8,540.5M178.8,541.1Q178.9,540.1 177.5,540.0M180.0,543.2Q179.4,543.2 178.9,541.1M178.9,541.1Q178.8,540.0 177.7,540.3M178.9,541.1Q178.2,541.3 177.6,540.0M182.2,545.9Q181.9,543.7 182.3,543.0M182.3,543.0Q183.2,541.6 183.8,542.0M183.8,542.0Q184.0,540.8 184.7,541.5M183.8,542.0Q183.6,540.9 184.1,541.1M182.3,543.0Q181.1,541.3 181.3,541.7M181.3,541.7Q180.3,541.8 181.0,540.9M181.3,541.7Q181.6,540.7 180.3,541.5M182.2,545.9Q184.9,543.8 186.0,543.3M186.0,543.3Q186.6,543.4 187.8,541.3M187.8,541.3Q187.9,539.8 187.9,539.6M187.8,541.3Q188.7,540.2 188.6,540.2M186.0,543.3Q187.3,542.7 189.1,543.3M189.1,543.3Q190.8,542.5 190.7,543.5M189.1,543.3Q189.5,543.9 190.9,543.3M170.3,554.3Q172.9,553.7 175.1,554.1M175.1,554.1Q175.4,554.7 177.3,553.6M177.3,553.6Q176.9,553.5 178.5,553.0M177.3,553.6Q177.4,552.3 178.4,553.1M175.1,554.1Q175.3,554.2 177.3,553.3M177.3,553.3Q178.8,553.6 178.3,552.6M177.3,553.3Q177.2,553.0 178.9,553.7M170.3,554.3Q172.9,554.7 174.7,555.8M174.7,555.8Q176.7,555.5 177.6,556.3M177.6,556.3Q178.5,556.0 178.7,557.3M177.6,556.3Q179.1,556.5 179.5,555.7M174.7,555.8Q175.0,554.7 176.8,555.1M176.8,555.1Q176.1,554.3 177.7,554.5M176.8,555.1Q178.2,555.2 177.9,555.0M170.3,554.3Q170.2,556.2 170.5,557.3M170.5,557.3Q171.6,558.6 171.0,558.6M171.0,558.6Q172.2,559.1 171.6,559.1M171.0,558.6Q170.5,559.4 171.9,558.9M170.5,557.3Q171.8,557.2 171.9,559.0M171.9,559.0Q172.7,560.4 172.3,560.1M171.9,559.0Q173.5,559.1 173.0,559.6M170.3,554.3Q169.2,556.4 166.9,556.9M166.9,556.9Q164.6,557.9 164.5,558.0M164.5,558.0Q164.9,557.5 163.3,558.7M164.5,558.0Q164.4,558.8 163.3,558.1M166.9,556.9Q167.5,558.2 165.9,558.9M165.9,558.9Q164.5,559.1 165.3,559.9M165.9,558.9Q165.3,558.6 165.6,560.0M170.3,554.3Q167.3,554.1 165.6,555.1M165.6,555.1Q165.3,555.0 162.9,555.5M162.9,555.5Q161.3,556.0 161.4,556.2M162.9,555.5Q162.3,556.5 161.4,556.1M165.6,555.1Q164.8,555.8 163.5,556.7M163.5,556.7Q161.7,556.5 161.7,557.2M163.5,556.7Q162.1,556.7 162.8,557.7M170.3,554.3Q167.8,553.1 165.5,553.7M165.5,553.7Q163.8,553.0 162.7,554.0M162.7,554.0Q163.5,555.0 162.0,554.7M162.7,554.0Q163.3,554.7 161.6,555.0M165.5,553.7Q164.1,553.5 163.1,554.8M163.1,554.8Q163.5,555.3 161.9,555.2M163.1,554.8Q162.5,554.4 161.2,555.2M170.3,554.3Q168.0,553.9 167.9,552.1M167.9,552.1Q167.1,551.7 167.8,550.6M167.8,550.6Q167.4,550.9 168.5,549.7M167.8,550.6Q167.7,549.4 168.4,549.8M167.9,552.1Q167.5,551.5 167.8,550.6M167.8,550.6Q166.9,549.0 167.3,549.7M167.8,550.6Q168.5,550.6 167.8,549.7M170.3,554.3Q171.4,552.5 172.5,550.6M172.5,550.6Q172.4,548.6 171.9,548.5M171.9,548.5Q171.9,549.1 172.1,547.5M171.9,548.5Q171.3,547.5 170.9,547.9M172.5,550.6Q174.2,550.8 174.3,549.4M174.3,549.4Q174.4,549.6 175.6,549.1M174.3,549.4Q174.4,548.9 175.3,548.7M170.3,554.3Q173.4,552.4 174.6,552.1M174.6,552.1Q175.5,550.9 176.2,550.3M176.2,550.3Q175.8,549.7 176.3,549.3M176.2,550.3Q178.0,551.4 178.1,550.2M174.6,552.1Q176.8,551.3 177.6,552.7M177.6,552.7Q177.9,553.2 179.2,553.4M177.6,552.7Q178.4,552.8 178.5,553.8M186.4,556.7Q187.9,555.8 191.6,556.3M191.6,556.3Q192.1,557.0 194.5,556.8M194.5,556.8Q195.2,556.9 196.3,556.8M194.5,556.8Q194.4,556.3 196.1,557.2M191.6,556.3Q192.0,557.9 194.2,557.7M194.2,557.7Q195.0,557.1 195.6,557.8M194.2,557.7Q194.3,558.2 195.7,558.4M186.4,556.7Q188.6,556.5 190.4,558.2M190.4,558.2Q191.3,559.3 192.5,558.7M192.5,558.7Q193.7,558.0 193.7,559.1M192.5,558.7Q191.8,560.0 193.0,559.6M190.4,558.2Q192.6,558.6 192.6,558.7M192.6,558.7Q193.6,557.9 193.4,559.2M192.6,558.7Q192.0,558.8 193.8,558.5M186.4,556.7Q187.6,558.0 187.8,559.6M187.8,559.6Q188.3,560.6 186.9,561.3M186.9,561.3Q185.4,562.2 185.5,561.9M186.9,561.3Q187.3,562.7 186.8,562.5M187.8,559.6Q189.3,561.1 189.7,560.5M189.7,560.5Q190.2,559.8 190.3,561.1M189.7,560.5Q189.4,561.8 190.9,561.1M186.4,556.7Q184.5,557.8 184.0,559.1M184.0,559.1Q182.0,558.3 181.8,559.7M181.8,559.7Q180.6,560.3 181.0,560.7M181.8,559.7Q180.9,559.2 180.7,560.4M184.0,559.1Q183.4,560.1 181.8,559.6M181.8,559.6Q180.9,558.6 180.9,559.2M181.8,559.6Q181.7,558.6 180.3,559.9M186.4,556.7Q184.6,557.4 182.0,558.7M182.0,558.7Q181.8,558.9 179.9,559.7M179.9,559.7Q178.1,559.3 178.4,559.6M179.9,559.7Q179.7,559.2 179.1,560.8M182.0,558.7Q181.3,559.8 180.8,560.6M180.8,560.6Q179.5,561.3 180.5,561.7M180.8,560.6Q180.6,562.2 180.6,561.5M186.4,556.7Q184.9,556.0 182.6,556.5M182.6,556.5Q181.0,556.9 180.6,557.0M180.6,557.0Q181.0,556.1 179.1,557.3M180.6,557.0Q180.8,557.8 179.2,557.2M182.6,556.5Q181.2,555.7 180.4,555.9M180.4,555.9Q181.0,555.9 179.4,555.1M180.4,555.9Q180.3,556.0 178.9,556.0M186.4,556.7Q185.6,555.1 184.6,553.9M184.6,553.9Q183.1,554.7 182.5,553.3M182.5,553.3Q181.3,552.5 181.3,553.0M182.5,553.3Q180.8,554.2 181.4,553.2M184.6,553.9Q184.2,552.6 183.4,552.3M183.4,552.3Q182.4,551.7 182.4,552.0M183.4,552.3Q184.4,551.4 183.3,551.3M186.4,556.7Q186.4,554.3 188.3,553.5M188.3,553.5Q188.9,553.1 190.1,551.5M190.1,551.5Q189.5,550.7 191.0,550.0M190.1,551.5Q190.3,550.1 191.7,551.1M188.3,553.5Q188.6,551.9 187.9,551.7M187.9,551.7Q187.9,552.2 187.5,550.9M187.9,551.7Q188.5,552.4 188.0,550.8M186.4,556.7Q188.6,556.8 189.3,555.1M189.3,555.1Q189.1,554.6 190.4,554.0M190.4,554.0Q191.9,553.2 191.5,553.8M190.4,554.0Q191.0,553.4 190.8,553.2M189.3,555.1Q189.2,554.6 191.2,554.6M191.2,554.6Q191.1,554.2 191.7,553.8M191.2,554.6Q191.6,553.4 192.2,554.5M144.3,569.1Q147.7,568.5 148.8,570.0M148.8,570.0Q149.7,569.5 151.4,570.9M151.4,570.9Q152.7,569.9 152.8,570.8M151.4,570.9Q151.9,571.7 152.2,572.0M148.8,570.0Q150.4,569.9 151.4,570.7M151.4,570.7Q152.5,571.7 152.5,571.5M151.4,570.7Q152.6,572.3 152.4,571.6M144.3,569.1Q145.9,571.1 147.5,571.0M147.5,571.0Q148.3,571.4 149.3,571.0M149.3,571.0Q150.9,570.5 150.2,571.4M149.3,571.0Q148.6,570.3 150.1,571.3M147.5,571.0Q148.8,570.1 149.8,570.8M149.8,570.8Q149.5,570.3 150.8,571.4M149.8,570.8Q149.7,569.8 151.3,571.1M144.3,569.1Q145.5,570.6 144.3,572.1M144.3,572.1Q144.8,572.8 143.8,573.6M143.8,573.6Q142.9,574.7 143.9,574.7M143.8,573.6Q143.9,574.9 144.5,574.5M144.3,572.1Q145.0,573.7 146.0,573.3M146.0,573.3Q145.4,573.3 146.0,574.4M146.0,573.3Q146.0,572.8 147.3,573.7M144.3,569.1Q142.3,571.7 141.3,571.9M141.3,571.9Q140.2,573.8 140.8,574.0M140.8,574.0Q140.9,575.1 139.7,574.7M140.8,574.0Q140.9,575.5 141.2,575.1M141.3,571.9Q141.4,572.9 141.1,574.1M141.1,574.1Q140.2,575.8 140.7,575.6M141.1,574.1Q142.1,574.1 141.4,575.5M144.3,569.1Q141.1,568.2 138.9,569.6M138.9,569.6Q136.4,571.7 136.3,571.7M136.3,571.7Q135.2,571.8 136.0,573.5M136.3,571.7Q135.1,573.1 134.7,572.4M138.9,569.6Q138.2,568.2 135.3,568.9M135.3,568.9Q134.6,568.0 133.0,569.3M135.3,568.9Q134.2,567.8 133.5,568.6M144.3,569.1Q141.1,569.9 138.8,568.8M138.8,568.8Q136.7,569.4 136.3,570.2M136.3,570.2Q135.1,571.5 135.6,571.6M136.3,570.2Q135.3,570.5 135.1,570.9M138.8,568.8Q137.1,569.2 136.8,567.2M136.8,567.2Q136.2,565.8 136.7,565.8M136.8,567.2Q135.1,567.1 135.5,566.8M144.3,569.1Q142.7,566.5 141.8,566.2M141.8,566.2Q141.5,565.3 141.1,564.1M141.1,564.1Q142.1,563.9 141.3,562.7M141.1,564.1Q140.6,564.8 140.5,563.1M141.8,566.2Q140.7,564.7 140.0,564.9M140.0,564.9Q140.3,565.5 140.1,564.0M140.0,564.9Q139.0,564.0 138.6,564.5M144.3,569.1Q145.1,568.4 144.3,566.3M144.3,566.3Q145.3,565.4 145.4,565.3M145.4,565.3Q145.4,566.3 146.3,564.9M145.4,565.3Q146.2,565.0 145.2,564.5M144.3,566.3Q143.8,565.6 144.7,564.4M144.7,564.4Q145.6,563.7 145.5,563.5M144.7,564.4Q145.3,563.4 145.0,563.2M144.3,569.1Q145.5,568.4 148.0,567.1M148.0,567.1Q148.7,566.6 149.6,565.1M149.6,565.1Q149.4,563.7 150.5,564.0M149.6,565.1Q150.5,565.0 151.3,564.7M148.0,567.1Q148.4,567.8 150.4,567.0M150.4,567.0Q151.9,567.9 151.8,566.9M150.4,567.0Q150.5,568.0 151.2,567.5M161.9,567.7Q162.9,567.4 165.6,568.2M165.6,568.2Q167.2,567.9 167.3,567.5M167.3,567.5Q167.5,568.5 168.1,567.1M167.3,567.5Q167.8,568.1 168.4,567.3M165.6,568.2Q166.7,568.3 167.0,569.1M167.0,569.1Q167.1,568.9 167.7,569.5M167.0,569.1Q166.7,569.4 167.8,569.3M161.9,567.7Q164.2,567.8 165.4,568.9M165.4,568.9Q167.2,568.0 167.4,569.1M167.4,569.1Q167.3,569.1 168.6,569.4M167.4,569.1Q167.5,568.3 168.3,569.6M165.4,568.9Q166.9,568.7 167.4,569.4M167.4,569.4Q168.8,569.1 168.6,569.6M167.4,569.4Q169.0,568.7 168.6,569.5M161.9,567.7Q161.3,569.9 161.4,571.4M161.4,571.4Q162.2,571.9 161.8,573.1M161.8,573.1Q162.9,574.2 162.0,574.0M161.8,573.1Q162.3,573.2 163.0,573.6M161.4,571.4Q160.4,573.1 159.6,572.9M159.6,572.9Q159.2,574.2 158.7,573.9M159.6,572.9Q158.6,572.1 158.1,573.6M161.9,567.7Q161.2,569.7 159.2,570.5M159.2,570.5Q158.2,572.1 159.3,572.2M159.3,572.2Q160.3,572.7 160.1,572.8M159.3,572.2Q160.4,572.5 160.4,572.9M159.2,570.5Q159.2,571.8 159.7,572.6M159.7,572.6Q159.9,572.3 158.4,573.7M159.7,572.6Q158.9,574.3 160.4,573.7M161.9,567.7Q159.7,567.8 158.3,569.1M158.3,569.1Q157.2,568.8 156.0,568.8M156.0,568.8Q156.4,569.8 155.0,569.4M156.0,568.8Q154.9,567.4 155.2,568.2M158.3,569.1Q157.3,569.4 156.3,569.8M156.3,569.8Q156.5,569.2 155.2,570.0M156.3,569.8Q154.7,569.2 155.1,569.5M161.9,567.7Q160.0,566.7 157.9,566.5M157.9,566.5Q156.0,567.1 155.1,566.6M155.1,566.6Q154.2,567.4 153.6,566.0M155.1,566.6Q153.1,566.6 153.2,566.8M157.9,566.5Q157.9,565.1 156.2,565.7M156.2,565.7Q156.9,565.5 155.6,565.1M156.2,565.7Q156.4,565.7 155.8,564.9M161.9,567.7Q161.5,565.7 159.5,565.4M159.5,565.4Q158.7,563.6 159.7,563.9M159.7,563.9Q159.9,563.9 160.5,563.1M159.7,563.9Q160.0,562.6 159.3,562.9M159.5,565.4Q157.2,566.0 157.1,565.1M157.1,565.1Q156.7,564.8 155.9,565.3M157.1,565.1Q157.5,564.6 155.9,564.9M161.9,567.7Q163.3,567.5 163.3,565.0M163.3,565.0Q163.2,564.7 163.6,563.8M163.6,563.8Q162.5,563.3 163.3,563.0M163.6,563.8Q164.3,562.5 164.2,563.2M163.3,565.0Q165.1,565.9 164.8,564.3M164.8,564.3Q164.8,564.0 165.9,564.4M164.8,564.3Q166.4,563.2 165.9,564.2M161.9,567.7Q164.1,566.5 165.9,565.2M165.9,565.2Q165.5,565.2 166.2,563.3M166.2,563.3Q167.6,561.8 167.1,562.6M166.2,563.3Q166.1,563.7 166.7,562.0M165.9,565.2Q166.6,564.7 168.1,564.4M168.1,564.4Q167.8,564.6 169.1,563.5M168.1,564.4Q168.6,563.1 168.9,563.8" fill="none" stroke="#3f8a4c" stroke-width="0.5"/>
<path d="M122.6,557.1 C126,548 133,546 142.2,547.3 M142.2,547.3 C150,552 150,560 144.3,569.1 M142.2,547.3 C152,540 158,545 165.4,543.8 M165.4,543.8 C172,538 178,540 182.2,545.9 M165.4,543.8 C168,548 168,551 170.3,554.3 M170.3,554.3 C176,552 181,553 186.4,556.7 M170.3,554.3 C168,560 165,564 161.9,567.7 M144.3,569.1 C150,562 156,572 161.9,567.7 M161.9,567.7 C172,571 178,566 186.4,556.7 M122.6,557.1 C130,562 136,570 144.3,569.1 M150,552 C156,556 160,556 163,552 C166,548 172,552 175,550" fill="none" stroke="#3f8a4c" stroke-width="0.75"/>
<path d="M122.90,556.66L120.04,556.00L122.30,557.54ZM123.21,556.99L122.09,555.32L121.99,557.21ZM123.01,557.48L124.37,555.87L122.19,556.72ZM122.35,557.56L124.79,557.86L122.85,556.64ZM121.98,557.18L123.01,559.18L123.22,557.02ZM122.15,556.75L120.52,558.81L123.05,557.45Z" fill="#2d7a3a"/>
<ellipse cx="122.6" cy="557.1" rx="1.47" ry="1.19" fill="#2d7a3a"/>
<path d="M141.74,547.64L144.42,549.25L142.66,546.96ZM141.62,547.10L140.95,549.64L142.78,547.50ZM142.33,546.81L139.48,546.85L142.07,547.79ZM142.66,546.96L140.60,545.93L141.74,547.64ZM142.67,547.64L143.79,545.89L141.73,546.96ZM142.21,547.80L145.04,547.25L142.19,546.80Z" fill="#2d7a3a"/>
<ellipse cx="142.2" cy="547.3" rx="1.47" ry="1.19" fill="#2d7a3a"/>
<path d="M164.99,544.18L167.22,545.08L165.81,543.42ZM164.79,543.68L164.74,545.98L166.01,543.92ZM165.16,543.33L163.12,544.55L165.64,544.27ZM165.80,543.41L163.48,542.56L165.00,544.19ZM166.03,543.80L165.38,541.79L164.77,543.80ZM165.45,544.30L168.19,543.61L165.35,543.30Z" fill="#2d7a3a"/>
<ellipse cx="165.4" cy="543.8" rx="1.47" ry="1.19" fill="#2d7a3a"/>
<path d="M182.72,546.18L184.03,543.71L181.68,545.62ZM181.98,546.37L185.14,546.76L182.42,545.43ZM181.57,545.96L182.57,548.29L182.83,545.84ZM181.73,545.57L180.17,547.76L182.67,546.23ZM182.29,545.40L179.69,545.60L182.11,546.40ZM182.77,545.68L181.04,543.97L181.63,546.12Z" fill="#2d7a3a"/>
<ellipse cx="182.2" cy="545.9" rx="1.47" ry="1.19" fill="#2d7a3a"/>
<path d="M170.29,553.80L167.06,554.33L170.31,554.80ZM170.80,553.99L168.53,552.48L169.80,554.61ZM170.86,554.53L171.63,552.23L169.74,554.07ZM170.12,554.78L173.22,554.98L170.48,553.82ZM169.81,554.61L171.87,555.87L170.79,553.99ZM169.82,553.98L168.16,556.35L170.78,554.62Z" fill="#2d7a3a"/>
<ellipse cx="170.3" cy="554.3" rx="1.47" ry="1.19" fill="#2d7a3a"/>
<path d="M186.20,557.18L189.25,557.48L186.60,556.22ZM185.77,556.74L186.60,558.79L187.03,556.66ZM186.04,556.28L184.13,557.95L186.76,557.12ZM186.71,556.26L184.44,555.82L186.09,557.14ZM187.03,556.70L186.40,554.54L185.77,556.70ZM186.87,557.03L187.95,555.30L185.93,556.37Z" fill="#2d7a3a"/>
<ellipse cx="186.4" cy="556.7" rx="1.47" ry="1.19" fill="#2d7a3a"/>
<path d="M143.67,569.05L143.98,571.49L144.93,569.15ZM143.86,568.74L142.41,570.56L144.74,569.46ZM144.47,568.61L141.93,568.57L144.13,569.59ZM144.92,569.00L143.78,567.05L143.68,569.20ZM144.47,569.59L147.53,568.38L144.13,568.61ZM143.91,569.50L146.48,570.47L144.69,568.70Z" fill="#2d7a3a"/>
<ellipse cx="144.3" cy="569.1" rx="1.47" ry="1.19" fill="#2d7a3a"/>
<path d="M161.99,567.20L158.68,567.31L161.81,568.20ZM162.48,567.51L160.77,565.52L161.32,567.89ZM162.50,567.86L162.84,565.47L161.30,567.54ZM161.78,568.20L164.97,568.17L162.02,567.20ZM161.46,568.06L164.05,569.42L162.34,567.34ZM161.32,567.50L160.92,569.47L162.48,567.90Z" fill="#2d7a3a"/>
<ellipse cx="161.9" cy="567.7" rx="1.47" ry="1.19" fill="#2d7a3a"/>
</g>
<path d="M115.0,553.5 A41.95,23.3 0 0 0 198.89999999999998,553.5 L198.89999999999998,563.5 A41.95,23.6 0 0 1 115.0,563.5 Z" fill="#f4dce8" opacity="0.5"/>
<path d="M114.8,553 A42.15,23.5 0 0 0 199.1,553" fill="none" stroke="#a0a0a0" stroke-width="0.6"/>
<path d="M115.8,554.2 A41.15,22.2 0 0 0 198.1,554.2" fill="none" stroke="#c4c4c4" stroke-width="0.5"/>
<line x1="21" y1="501.9" x2="21" y2="542" stroke="#7fa8f0" stroke-width="1.5"/>
<path d="M17.4,541.5 L24.6,541.5 L21,548.7 Z" fill="#7fa8f0"/>
<line x1="72.5" y1="501.9" x2="72.5" y2="542" stroke="#7fa8f0" stroke-width="1.5"/>
<path d="M68.9,541.5 L76.1,541.5 L72.5,548.7 Z" fill="#7fa8f0"/>
<circle cx="52.3" cy="499" r="5.1" fill="#fff" stroke="#d66" stroke-width="0.6"/>
<path d="M49.699999999999996,498.8l2.2,-0.9M49.4,500.9l2.2,-0.9M52.5,500.1l2.2,-0.9M52.699999999999996,497.4l1.8,-0.7" stroke="#d8332a" stroke-width="1.5" stroke-linecap="round"/>
<circle cx="62.2" cy="506.6" r="5.1" fill="#fff" stroke="#d66" stroke-width="0.6"/>
<path d="M59.6,506.40000000000003l2.2,-0.9M59.300000000000004,508.5l2.2,-0.9M62.400000000000006,507.70000000000005l2.2,-0.9M62.6,505.0l1.8,-0.7" stroke="#d8332a" stroke-width="1.5" stroke-linecap="round"/>
<circle cx="43.5" cy="511.6" r="5.1" fill="#fff" stroke="#b8c4e4" stroke-width="0.6"/>
<path d="M43.5,508.40000000000003v2.6M42.0,511.8v2.8M45.0,511.8v2.8" stroke="#8c8c8c" stroke-width="1.4"/>
<circle cx="54.6" cy="518.3" r="5.1" fill="#fff" stroke="#b8c4e4" stroke-width="0.6"/>
<path d="M54.6,515.0999999999999v2.6M53.1,518.5v2.8M56.1,518.5v2.8" stroke="#8c8c8c" stroke-width="1.4"/>
<path d="M80.1,536.2 C86,526 95,518 104.6,517.1 C113,516.5 121,520 126.6,524.6 L128.2,523.2 L132.2,538.2 L123.3,534.6 L124.7,533.3 C119,528 112,523.4 104.6,523.4 C96,523.6 87,529 80.1,536.2 Z" fill="#7e8cc2" opacity="0.92"/>
<text x="11.4" y="496.1" font-size="10" font-family='"Liberation Sans", sans-serif'>PFF</text>
<text x="69" y="497.3" font-size="10" font-family='"Liberation Sans", sans-serif'>C4</text>
<text x="101.4" y="513.7" font-size="10.1" font-family='"Liberation Sans", sans-serif'>ACM</text>
<text x="29.2" y="604.5" font-size="11.6" font-family='"Liberation Sans", sans-serif'>Astrocyte</text>
<text x="146" y="602" font-size="11.7" font-family='"Liberation Sans", sans-serif'>Neuron</text>
<line x1="203.9" y1="555" x2="232" y2="555" stroke="#4a6fd6" stroke-width="1.9"/>
<path d="M231.2,551.1 L236.6,555 L231.2,558.9 Z" fill="#4a6fd6"/>
<defs><filter id="bl0" x="-5%" y="-5%" width="110%" height="110%"><feGaussianBlur stdDeviation="0.35"/></filter><filter id="bl1" x="-50%" y="-50%" width="200%" height="200%"><feGaussianBlur stdDeviation="0.55"/></filter><filter id="bl2" x="-50%" y="-50%" width="200%" height="200%"><feGaussianBlur stdDeviation="0.9"/></filter><filter id="bl3" x="-50%" y="-50%" width="200%" height="200%"><feGaussianBlur stdDeviation="1.6"/></filter></defs>
<clipPath id="cp00"><rect x="255.0" y="459.6" width="105.4" height="104.3"/></clipPath>
<clipPath id="cp01"><rect x="362.2" y="459.6" width="104.8" height="104.3"/></clipPath>
<clipPath id="cp02"><rect x="469.0" y="459.6" width="104.9" height="104.3"/></clipPath>
<clipPath id="cp03"><rect x="575.8" y="459.6" width="105.1" height="104.3"/></clipPath>
<clipPath id="cp10"><rect x="255.0" y="567.2" width="105.4" height="104.7"/></clipPath>
<clipPath id="cp11"><rect x="362.2" y="567.2" width="104.8" height="104.7"/></clipPath>
<clipPath id="cp12"><rect x="469.0" y="567.2" width="104.9" height="104.7"/></clipPath>
<clipPath id="cp13"><rect x="575.8" y="567.2" width="105.1" height="104.7"/></clipPath>
<clipPath id="cp20"><rect x="255.0" y="674.1" width="105.4" height="104.7"/></clipPath>
<clipPath id="cp21"><rect x="362.2" y="674.1" width="104.8" height="104.7"/></clipPath>
<clipPath id="cp22"><rect x="469.0" y="674.1" width="104.9" height="104.7"/></clipPath>
<clipPath id="cp23"><rect x="575.8" y="674.1" width="105.1" height="104.7"/></clipPath>
<clipPath id="cp30"><rect x="255.0" y="781.7" width="105.4" height="104.1"/></clipPath>
<clipPath id="cp31"><rect x="362.2" y="781.7" width="104.8" height="104.1"/></clipPath>
<clipPath id="cp32"><rect x="469.0" y="781.7" width="104.9" height="104.1"/></clipPath>
<clipPath id="cp33"><rect x="575.8" y="781.7" width="105.1" height="104.1"/></clipPath>
<rect x="255" y="459.6" width="425.9" height="104.3" fill="#000"/>
<rect x="255" y="567.2" width="425.9" height="104.7" fill="#000"/>
<rect x="255" y="674.1" width="425.9" height="104.7" fill="#000"/>
<rect x="255" y="781.7" width="425.9" height="104.1" fill="#000"/>
<rect x="362.2" y="781.7" width="104.8" height="104.1" fill="#060000"/>
<rect x="575.8" y="781.7" width="105.1" height="104.1" fill="#040000"/>
<rect x="360.5" y="459.6" width="1.6" height="426.2" fill="#cfcfcf"/>
<rect x="467.2" y="459.6" width="1.6" height="426.2" fill="#cfcfcf"/>
<rect x="574.0500000000001" y="459.6" width="1.6" height="426.2" fill="#cfcfcf"/>
<g clip-path="url(#cp00)">
<ellipse cx="283.10" cy="506.70" rx="2.30" ry="2.12" fill="#2020f4" opacity="1" filter="url(#bl1)"/>
<ellipse cx="288.60" cy="505.40" rx="1.84" ry="1.70" fill="#2020f4" opacity="1" filter="url(#bl1)"/>
<ellipse cx="283.10" cy="512.90" rx="2.30" ry="2.12" fill="#2020f4" opacity="1" filter="url(#bl1)"/>
<ellipse cx="307.80" cy="498.80" rx="2.30" ry="2.12" fill="#2020f4" opacity="1" filter="url(#bl1)"/>
<ellipse cx="300.30" cy="497.80" rx="1.01" ry="0.94" fill="#2020f4" opacity="0.5" filter="url(#bl1)"/>
<ellipse cx="326.90" cy="520.70" rx="2.39" ry="2.21" fill="#2020f4" opacity="1" filter="url(#bl1)"/>
<ellipse cx="335.00" cy="523.80" rx="2.30" ry="2.12" fill="#2020f4" opacity="1" filter="url(#bl1)"/>
<ellipse cx="339.40" cy="518.00" rx="2.30" ry="2.12" fill="#2020f4" opacity="1" filter="url(#bl1)"/>
<ellipse cx="341.30" cy="522.30" rx="2.30" ry="2.12" fill="#2020f4" opacity="1" filter="url(#bl1)"/>
<ellipse cx="344.40" cy="517.60" rx="2.21" ry="2.04" fill="#2020f4" opacity="1" filter="url(#bl1)"/>
<ellipse cx="267.80" cy="539.00" rx="2.76" ry="2.55" fill="#2020f4" opacity="1" filter="url(#bl1)"/>
</g>
<g clip-path="url(#cp01)">
</g>
<g clip-path="url(#cp02)">
<g transform="translate(469.0,459.6)" fill="none" stroke-linecap="round" filter="url(#bl0)">
<ellipse cx="23.7" cy="54.2" rx="5.5" ry="4.5" transform="rotate(-30 23.7 54.2)" fill="#40e02a" opacity="0.74" filter="url(#bl2)"/>
<ellipse cx="83" cy="60.5" rx="11" ry="4.5" transform="rotate(-12 83 60.5)" fill="#40e02a" opacity="0.61" filter="url(#bl2)"/>
<ellipse cx="81" cy="62.9" rx="3" ry="3" transform="rotate(0 81 62.9)" fill="#40e02a" opacity="1.00" filter="url(#bl2)"/>
<ellipse cx="20" cy="61" rx="3" ry="2.5" transform="rotate(0 20 61)" fill="#40e02a" opacity="0.47" filter="url(#bl2)"/>
<circle cx="11.4" cy="76.5" r="3.0" fill="#38c024" fill-opacity=".75" stroke="#50f838" stroke-width="1.4" opacity="1"/>
<circle cx="78.9" cy="66.4" r="2.6" fill="#38c024" fill-opacity=".75" stroke="#50f838" stroke-width="1.2" opacity="0.9"/>
<path d="M55.6,29.8 C51,35 43,44 37.7,48.6 C33,52 27,58 22.8,62.9 C19,66.5 15.5,69.5 13.1,71.7" stroke="#38e024" stroke-width="2.2" opacity="1"/>
<path d="M0,51.5 C5,53 9,55 13.1,55.9 C16,56.5 19,57 21.9,56.8" stroke="#38e024" stroke-width="1.5" opacity="0.95"/>
<path d="M17.5,76.1 C20,76.5 23,77 26.3,76.9 C31,78 35,79 39.4,79.6 C43,81 46,82 49,83.1 C53,84.5 57,85.5 60,86.6 C63,86.7 67,87 70.6,87.5" stroke="#38e024" stroke-width="1.3" opacity="0.9"/>
<path d="M66.2,86.6 C68,84 70,81 72,78 C74,74 76,70 76.7,68.2" stroke="#38e024" stroke-width="1.0" opacity="0.8"/>
<path d="M9.6,75.2 C7,73 6,72 6.1,71.7 C8,66 9,62 10.5,58.5 C11,57 12,56 12.3,55.9" stroke="#38e024" stroke-width="1.1" opacity="0.8"/>
<path d="M7,82.2 C4,86 2,89 0,92.7" stroke="#38e024" stroke-width="0.9" opacity="0.55"/>
<path d="M3.1,1.3 C5,4 7,7 8.8,8.8 C12,12 14,15 16.6,17.5 C19,21 21,24 22.8,26.3 C25,29 27,32 28.9,34.2 C31,36 33,38 35,39.4 C38,40 40,41 42.9,41.2" stroke="#38e024" stroke-width="0.8" opacity="0.6"/>
<path d="M47.7,0.9 C48,4 48.5,6 49,8.8 C51,11 53,13 56,15.8 C55.5,19 55,22 54.3,24.5 C53,27 51.5,30 50,33.3" stroke="#38e024" stroke-width="0.8" opacity="0.55"/>
<path d="M45.6,17.5 C44.5,22 43.5,27 43,30.7 C42.5,34 42.3,37 42,39.4" stroke="#38e024" stroke-width="0.7" opacity="0.45"/>
<path d="M0,29.8 C1.5,31 3,33 4.4,34.2 C7,36.5 9,39 11.4,41.2 C14,43.5 16,46 17.5,47.3 C19,48 20.5,48.7 21.9,49" stroke="#38e024" stroke-width="0.9" opacity="0.65"/>
<path d="M47.3,42 C51,44 56,47 59.6,49" stroke="#38e024" stroke-width="0.7" opacity="0.45"/>
<path d="M53,43.2 C56,45 59,47 61.8,48.4 C64,50 66.5,52.5 68.8,54.7 C71,56.5 73.5,58.5 75.8,60.3" stroke="#38e024" stroke-width="1.0" opacity="0.75"/>
<path d="M94.2,64.7 C96,66 98,67.5 100.4,69.1 C102,70 103.5,71 104.8,71.7" stroke="#38e024" stroke-width="1.0" opacity="0.75"/>
<path d="M95.1,56.8 C98,56 101,55 103.9,54.2" stroke="#38e024" stroke-width="0.9" opacity="0.7"/>
<path d="M56.5,87.5 C57.5,90 58.5,92.5 59.2,94.5 C62,96 65,97.5 67.9,98.9" stroke="#38e024" stroke-width="0.7" opacity="0.4"/>
<path d="M91.6,67.3 C93.5,71 95.5,75 97.8,78.7" stroke="#38e024" stroke-width="0.7" opacity="0.45"/>
<path d="M85.5,45.4 C85.5,48 85.5,51 85.5,54.2" stroke="#38e024" stroke-width="0.7" opacity="0.45"/>
<path d="M83.7,2.9 C86,5 88.5,7 90.7,9 C91.5,12 91.8,14 91.6,16.9 C90,18.5 88.5,20 87.2,21.3 C85.5,23 84,25 82.8,26.6 C82.2,29 82,32 82,34.4 C82.5,37 83,39.5 83.7,41.4 C85,43 86.5,44 88,45 C89.5,46 91,46.5 92.5,46.7" stroke="#38e024" stroke-width="0.8" opacity="0.6"/>
<path d="M75.8,4.7 C78,4 80.5,3.3 82.8,2.9 C85,2.4 87.5,1.6 89.8,1.1" stroke="#38e024" stroke-width="1.1" opacity="0.75"/>
<path d="M93.3,9.9 C95,11.5 97,13.5 98.6,15.2 C99.5,17 100.5,19 101.3,21.3 C100.5,23.5 99.5,25.5 98.6,27.4 C100.5,28.5 102,29.5 103.9,30.9" stroke="#38e024" stroke-width="0.8" opacity="0.55"/>
<path d="M28,57 C30,60 31,62 32,64" stroke="#38e024" stroke-width="0.6" opacity="0.4"/>
<path d="M31.6,58.5 C34,58 37,57.8 39.4,57.7" stroke="#38e024" stroke-width="0.6" opacity="0.4"/>
</g>
</g>
<g clip-path="url(#cp03)"><g style="isolation:isolate">
<g transform="translate(575.8,459.6)" fill="none" stroke-linecap="round" filter="url(#bl0)">
<ellipse cx="23.7" cy="54.2" rx="5.5" ry="4.5" transform="rotate(-30 23.7 54.2)" fill="#40e02a" opacity="0.74" filter="url(#bl2)"/>
<ellipse cx="83" cy="60.5" rx="11" ry="4.5" transform="rotate(-12 83 60.5)" fill="#40e02a" opacity="0.61" filter="url(#bl2)"/>
<ellipse cx="81" cy="62.9" rx="3" ry="3" transform="rotate(0 81 62.9)" fill="#40e02a" opacity="1.00" filter="url(#bl2)"/>
<ellipse cx="20" cy="61" rx="3" ry="2.5" transform="rotate(0 20 61)" fill="#40e02a" opacity="0.47" filter="url(#bl2)"/>
<circle cx="11.4" cy="76.5" r="3.0" fill="#38c024" fill-opacity=".75" stroke="#50f838" stroke-width="1.4" opacity="1"/>
<circle cx="78.9" cy="66.4" r="2.6" fill="#38c024" fill-opacity=".75" stroke="#50f838" stroke-width="1.2" opacity="0.9"/>
<path d="M55.6,29.8 C51,35 43,44 37.7,48.6 C33,52 27,58 22.8,62.9 C19,66.5 15.5,69.5 13.1,71.7" stroke="#38e024" stroke-width="2.2" opacity="1"/>
<path d="M0,51.5 C5,53 9,55 13.1,55.9 C16,56.5 19,57 21.9,56.8" stroke="#38e024" stroke-width="1.5" opacity="0.95"/>
<path d="M17.5,76.1 C20,76.5 23,77 26.3,76.9 C31,78 35,79 39.4,79.6 C43,81 46,82 49,83.1 C53,84.5 57,85.5 60,86.6 C63,86.7 67,87 70.6,87.5" stroke="#38e024" stroke-width="1.3" opacity="0.9"/>
<path d="M66.2,86.6 C68,84 70,81 72,78 C74,74 76,70 76.7,68.2" stroke="#38e024" stroke-width="1.0" opacity="0.8"/>
<path d="M9.6,75.2 C7,73 6,72 6.1,71.7 C8,66 9,62 10.5,58.5 C11,57 12,56 12.3,55.9" stroke="#38e024" stroke-width="1.1" opacity="0.8"/>
<path d="M7,82.2 C4,86 2,89 0,92.7" stroke="#38e024" stroke-width="0.9" opacity="0.55"/>
<path d="M3.1,1.3 C5,4 7,7 8.8,8.8 C12,12 14,15 16.6,17.5 C19,21 21,24 22.8,26.3 C25,29 27,32 28.9,34.2 C31,36 33,38 35,39.4 C38,40 40,41 42.9,41.2" stroke="#38e024" stroke-width="0.8" opacity="0.6"/>
<path d="M47.7,0.9 C48,4 48.5,6 49,8.8 C51,11 53,13 56,15.8 C55.5,19 55,22 54.3,24.5 C53,27 51.5,30 50,33.3" stroke="#38e024" stroke-width="0.8" opacity="0.55"/>
<path d="M45.6,17.5 C44.5,22 43.5,27 43,30.7 C42.5,34 42.3,37 42,39.4" stroke="#38e024" stroke-width="0.7" opacity="0.45"/>
<path d="M0,29.8 C1.5,31 3,33 4.4,34.2 C7,36.5 9,39 11.4,41.2 C14,43.5 16,46 17.5,47.3 C19,48 20.5,48.7 21.9,49" stroke="#38e024" stroke-width="0.9" opacity="0.65"/>
<path d="M47.3,42 C51,44 56,47 59.6,49" stroke="#38e024" stroke-width="0.7" opacity="0.45"/>
<path d="M53,43.2 C56,45 59,47 61.8,48.4 C64,50 66.5,52.5 68.8,54.7 C71,56.5 73.5,58.5 75.8,60.3" stroke="#38e024" stroke-width="1.0" opacity="0.75"/>
<path d="M94.2,64.7 C96,66 98,67.5 100.4,69.1 C102,70 103.5,71 104.8,71.7" stroke="#38e024" stroke-width="1.0" opacity="0.75"/>
<path d="M95.1,56.8 C98,56 101,55 103.9,54.2" stroke="#38e024" stroke-width="0.9" opacity="0.7"/>
<path d="M56.5,87.5 C57.5,90 58.5,92.5 59.2,94.5 C62,96 65,97.5 67.9,98.9" stroke="#38e024" stroke-width="0.7" opacity="0.4"/>
<path d="M91.6,67.3 C93.5,71 95.5,75 97.8,78.7" stroke="#38e024" stroke-width="0.7" opacity="0.45"/>
<path d="M85.5,45.4 C85.5,48 85.5,51 85.5,54.2" stroke="#38e024" stroke-width="0.7" opacity="0.45"/>
<path d="M83.7,2.9 C86,5 88.5,7 90.7,9 C91.5,12 91.8,14 91.6,16.9 C90,18.5 88.5,20 87.2,21.3 C85.5,23 84,25 82.8,26.6 C82.2,29 82,32 82,34.4 C82.5,37 83,39.5 83.7,41.4 C85,43 86.5,44 88,45 C89.5,46 91,46.5 92.5,46.7" stroke="#38e024" stroke-width="0.8" opacity="0.6"/>
<path d="M75.8,4.7 C78,4 80.5,3.3 82.8,2.9 C85,2.4 87.5,1.6 89.8,1.1" stroke="#38e024" stroke-width="1.1" opacity="0.75"/>
<path d="M93.3,9.9 C95,11.5 97,13.5 98.6,15.2 C99.5,17 100.5,19 101.3,21.3 C100.5,23.5 99.5,25.5 98.6,27.4 C100.5,28.5 102,29.5 103.9,30.9" stroke="#38e024" stroke-width="0.8" opacity="0.55"/>
<path d="M28,57 C30,60 31,62 32,64" stroke="#38e024" stroke-width="0.6" opacity="0.4"/>
<path d="M31.6,58.5 C34,58 37,57.8 39.4,57.7" stroke="#38e024" stroke-width="0.6" opacity="0.4"/>
</g>
<g style="mix-blend-mode:screen">
<ellipse cx="603.90" cy="506.70" rx="2.30" ry="2.12" fill="#2020f4" opacity="1" filter="url(#bl1)"/>
<ellipse cx="609.40" cy="505.40" rx="1.84" ry="1.70" fill="#2020f4" opacity="1" filter="url(#bl1)"/>
<ellipse cx="603.90" cy="512.90" rx="2.30" ry="2.12" fill="#2020f4" opacity="1" filter="url(#bl1)"/>
<ellipse cx="628.60" cy="498.80" rx="2.30" ry="2.12" fill="#2020f4" opacity="1" filter="url(#bl1)"/>
<ellipse cx="621.10" cy="497.80" rx="1.01" ry="0.94" fill="#2020f4" opacity="0.5" filter="url(#bl1)"/>
<ellipse cx="647.70" cy="520.70" rx="2.39" ry="2.21" fill="#2020f4" opacity="1" filter="url(#bl1)"/>
<ellipse cx="655.80" cy="523.80" rx="2.30" ry="2.12" fill="#2020f4" opacity="1" filter="url(#bl1)"/>
<ellipse cx="660.20" cy="518.00" rx="2.30" ry="2.12" fill="#2020f4" opacity="1" filter="url(#bl1)"/>
<ellipse cx="662.10" cy="522.30" rx="2.30" ry="2.12" fill="#2020f4" opacity="1" filter="url(#bl1)"/>
<ellipse cx="665.20" cy="517.60" rx="2.21" ry="2.04" fill="#2020f4" opacity="1" filter="url(#bl1)"/>
<ellipse cx="588.60" cy="539.00" rx="2.76" ry="2.55" fill="#2020f4" opacity="1" filter="url(#bl1)"/>
</g>
<g style="mix-blend-mode:screen">
</g>
</g></g>
<g clip-path="url(#cp10)">
<ellipse cx="345.60" cy="584.80" rx="2.39" ry="2.21" fill="#2020f4" opacity="1" filter="url(#bl1)"/>
<ellipse cx="336.20" cy="598.80" rx="2.76" ry="2.55" fill="#2020f4" opacity="0.45" filter="url(#bl1)"/>
<ellipse cx="277.30" cy="601.90" rx="2.21" ry="2.04" fill="#2020f4" opacity="1" filter="url(#bl1)"/>
<ellipse cx="285.50" cy="612.10" rx="1.93" ry="1.78" fill="#2020f4" opacity="0.8" filter="url(#bl1)"/>
<ellipse cx="282.30" cy="615.70" rx="2.30" ry="2.12" fill="#2020f4" opacity="1" filter="url(#bl1)"/>
<ellipse cx="273.40" cy="616.30" rx="1.93" ry="1.78" fill="#2020f4" opacity="0.85" filter="url(#bl1)"/>
<ellipse cx="289.40" cy="619.90" rx="2.02" ry="1.87" fill="#2020f4" opacity="0.85" filter="url(#bl1)"/>
<ellipse cx="283.90" cy="620.70" rx="1.93" ry="1.78" fill="#2020f4" opacity="0.7" filter="url(#bl1)"/>
<ellipse cx="267.20" cy="623.50" rx="2.30" ry="2.12" fill="#2020f4" opacity="0.8" filter="url(#bl1)"/>
<ellipse cx="256.90" cy="624.10" rx="2.30" ry="2.12" fill="#2020f4" opacity="0.9" filter="url(#bl1)"/>
<ellipse cx="279.50" cy="634.00" rx="1.93" ry="1.78" fill="#2020f4" opacity="1" filter="url(#bl1)"/>
<ellipse cx="275.30" cy="655.80" rx="2.30" ry="2.12" fill="#2020f4" opacity="1" filter="url(#bl1)"/>
<ellipse cx="287.00" cy="659.80" rx="2.76" ry="2.55" fill="#2020f4" opacity="0.55" filter="url(#bl1)"/>
<ellipse cx="264.40" cy="652.70" rx="2.30" ry="2.12" fill="#2020f4" opacity="0.4" filter="url(#bl1)"/>
<ellipse cx="359.70" cy="585.50" rx="1.84" ry="1.70" fill="#2020f4" opacity="0.8" filter="url(#bl1)"/>
</g>
<g clip-path="url(#cp11)">
</g>
<g clip-path="url(#cp12)">
<g transform="translate(469.0,567.2)" fill="none" stroke-linecap="round" filter="url(#bl0)">
<ellipse cx="13.1" cy="53.6" rx="5" ry="4" transform="rotate(0 13.1 53.6)" fill="#40e02a" opacity="0.81" filter="url(#bl2)"/>
<ellipse cx="22.8" cy="50" rx="5" ry="4" transform="rotate(0 22.8 50)" fill="#40e02a" opacity="0.68" filter="url(#bl2)"/>
<ellipse cx="30.7" cy="45" rx="5" ry="3.5" transform="rotate(-20 30.7 45)" fill="#40e02a" opacity="0.68" filter="url(#bl2)"/>
<ellipse cx="28.9" cy="53.5" rx="5" ry="3" transform="rotate(0 28.9 53.5)" fill="#40e02a" opacity="0.61" filter="url(#bl2)"/>
<ellipse cx="20" cy="56" rx="6" ry="3" transform="rotate(0 20 56)" fill="#40e02a" opacity="0.47" filter="url(#bl2)"/>
<ellipse cx="13.1" cy="52.6" rx="2.5" ry="2.5" transform="rotate(0 13.1 52.6)" fill="#40e02a" opacity="0.94" filter="url(#bl2)"/>
<path d="M8.3,0 C9.5,3 10.5,5.5 11.4,7.9 C12.5,10.5 13.5,13 14.5,15.3 L15.8,16.6" stroke="#38e024" stroke-width="0.9" opacity="0.75"/>
<path d="M18.4,0 C17.8,3 17.2,6 16.6,8.8 C16.2,11.5 16,14 15.8,16.6 C17.5,19 19,21 20.2,22.8 C21.5,25 22.5,27 23.2,28.9 C23.8,31.5 24.2,34 24.5,36.8 C24.8,38.5 25.1,40.3 25.4,42" stroke="#38e024" stroke-width="1.3" opacity="0.9"/>
<path d="M29.8,0 C31,2.5 32.2,5 33.3,7.9 C33.5,11 33.6,14 33.7,17.5 C34,20.5 34.3,23.5 34.6,26.3 C34.9,29.2 35.2,32 35.5,35 C35.7,37.3 35.8,39.6 35.9,42" stroke="#38e024" stroke-width="1.0" opacity="0.8"/>
<path d="M41.2,23.7 C40,26 38.8,28.5 37.7,30.7" stroke="#38e024" stroke-width="0.8" opacity="0.5"/>
<path d="M8.8,28 C11,31 13.5,34 15.8,36.8 C18,39 20,41.5 21.9,43.8" stroke="#38e024" stroke-width="0.8" opacity="0.5"/>
<path d="M23.7,17.5 C24.5,22 25.5,26.5 26.3,30.7 C27,34 28,37 28.9,39.4" stroke="#38e024" stroke-width="0.8" opacity="0.5"/>
<path d="M0,41.2 C2,42.5 3.5,43.5 5.3,44.7 C7.5,46.5 9.5,48.5 11.4,50 C12.5,51 13.7,51.9 14.9,52.6" stroke="#38e024" stroke-width="1.0" opacity="0.8"/>
<path d="M35,43 C37.5,44 39.8,45 42.1,45.6 C44.5,45.4 46.8,45 49.1,44.7 C51,42 52.5,39.5 54.4,36.8 C56,35 58,33 60,31.6" stroke="#38e024" stroke-width="0.9" opacity="0.75"/>
<path d="M43.8,47.4 C46.8,46 49.8,44.8 52.6,43.8 C55,42.8 57.5,42 60,41.2" stroke="#38e024" stroke-width="0.9" opacity="0.7"/>
<path d="M20.2,58 C22.3,58.6 24.3,59.1 26.3,59.3 C28.6,59 31,58.7 33.3,58.4 C35.1,58 36.8,57.6 38.6,57.1 C40.4,55.9 42.1,54.7 43.9,53.6 C45.6,52.8 47.4,52 49.1,51.4 C52,51 55,50.9 60,50.9 C62,50.9 64,51 67.9,52.4 C71,53.3 74,54 76.7,54.6 C79.5,55.2 82,55.8 84.6,56.4 C87,58 89.5,60 92.5,62.3 C94.5,63.4 96.5,64.5 98.6,65.4 C100.4,65.1 102.2,64.8 103.9,64.5" stroke="#38e024" stroke-width="1.5" opacity="0.95"/>
<path d="M46,43.6 C48.3,41 50.6,38.3 53,35.8 C55,34.3 57.1,32.8 59.2,31.4 C63.5,30.3 68,29.1 72.3,27.9 C73.5,26.4 74.6,25 75.8,23.5 C76.7,21.9 77.6,20.3 78.5,18.7 C80.5,17.9 82.6,17.2 84.6,16.5 C86.4,16.5 88.1,16.5 89.9,16.5" stroke="#38e024" stroke-width="0.8" opacity="0.55"/>
<path d="M46,45.4 C49,44.2 51.9,43 54.8,41.9 C56.5,41.5 58.3,41 60,40.6 C62.1,41.6 64.1,42.7 66.2,43.7 C67.9,44.6 69.7,45.4 71.4,46.3" stroke="#38e024" stroke-width="0.9" opacity="0.7"/>
<path d="M88.1,4.2 C90.4,3.9 92.8,3.6 95.1,3.3 C98.3,3.6 101.6,3.9 104.8,4.2" stroke="#38e024" stroke-width="0.9" opacity="0.6"/>
<path d="M87.2,27 C88.7,29 90.2,31.1 91.6,33.1" stroke="#38e024" stroke-width="0.7" opacity="0.4"/>
<path d="M98.6,32.3 C100.4,31.1 102.1,30 103.9,28.8" stroke="#38e024" stroke-width="0.7" opacity="0.4"/>
<path d="M0,64.1 C1.8,64.1 3.5,64.1 5.3,64.1 C7,63.4 8.8,62.6 10.5,61.9 C12.3,61.2 14,60.4 15.8,59.7" stroke="#38e024" stroke-width="1.1" opacity="0.85"/>
<path d="M5.3,64.9 C5,67 4.7,69 4.4,71.1 C3.5,72.9 2.7,74.6 1.8,76.4 C1.2,77.6 .6,78.7 0,79.9" stroke="#38e024" stroke-width="0.9" opacity="0.7"/>
<path d="M30.7,59.7 C31.3,63.5 31.9,67.3 32.5,71.1 C33.9,74 35.4,77 36.8,79.9 C38.3,82.8 39.7,85.8 41.2,88.7 C42.7,91.6 44.1,94.5 45.6,97.4 C46.3,99.9 47.1,102.3 47.8,104.8" stroke="#38e024" stroke-width="0.9" opacity="0.75"/>
<path d="M47.8,102.7 C48.8,100.7 49.9,98.6 50.9,96.6 C54,95.9 57,95.1 60,94.4" stroke="#38e024" stroke-width="0.9" opacity="0.7"/>
<path d="M40.4,58 C42.7,59.2 45.1,60.3 47.4,61.5 C49.7,62.4 52.1,63.2 54.4,64.1 C56.3,64.8 58.1,65.6 60,66.3" stroke="#38e024" stroke-width="1.1" opacity="0.85"/>
<path d="M43,59.7 C46.2,62.6 49.4,65.6 52.6,68.5 C55.1,71.4 57.5,74.4 60,77.3" stroke="#38e024" stroke-width="0.7" opacity="0.45"/>
<path d="M0,97.4 C2.9,97.7 5.9,98 8.8,98.3 C11.7,99.8 14.6,101.2 17.5,102.7" stroke="#38e024" stroke-width="0.9" opacity="0.6"/>
<path d="M0,55.3 C2.6,55.3 5.3,55.3 7.9,55.3" stroke="#38e024" stroke-width="0.7" opacity="0.4"/>
<path d="M46,60.6 C49,62.1 51.9,63.5 54.8,65 C57.7,66.2 60.6,67.3 63.5,68.5 C67.6,70.7 71.7,72.9 75.8,75.1 C78.7,75.4 81.7,75.6 84.6,75.9 C86.4,76.6 88.1,77.4 89.9,78.1" stroke="#38e024" stroke-width="1.1" opacity="0.8"/>
<path d="M84.6,75.9 C85.5,74.3 86.3,72.7 87.2,71.1 C88.4,68.5 89.5,65.8 90.7,63.2" stroke="#38e024" stroke-width="0.7" opacity="0.45"/>
<path d="M53,68.5 C54.5,70 55.9,71.4 57.4,72.9 C59.4,76.4 61.5,79.9 63.5,83.4" stroke="#38e024" stroke-width="0.7" opacity="0.45"/>
<path d="M74.1,78.1 C73.8,80.5 73.5,82.8 73.2,85.2 C70,87.5 66.7,89.9 63.5,92.2 C60,93.7 56.5,95.1 53,96.6 C51.3,99.2 49.5,101.8 47.8,104.4" stroke="#38e024" stroke-width="0.9" opacity="0.75"/>
<path d="M102.1,84.3 C103,84.6 103.9,84.9 104.8,85.2" stroke="#38e024" stroke-width="0.9" opacity="0.6"/>
</g>
</g>
<g clip-path="url(#cp13)"><g style="isolation:isolate">
<g transform="translate(575.8,567.2)" fill="none" stroke-linecap="round" filter="url(#bl0)">
<ellipse cx="13.1" cy="53.6" rx="5" ry="4" transform="rotate(0 13.1 53.6)" fill="#40e02a" opacity="0.81" filter="url(#bl2)"/>
<ellipse cx="22.8" cy="50" rx="5" ry="4" transform="rotate(0 22.8 50)" fill="#40e02a" opacity="0.68" filter="url(#bl2)"/>
<ellipse cx="30.7" cy="45" rx="5" ry="3.5" transform="rotate(-20 30.7 45)" fill="#40e02a" opacity="0.68" filter="url(#bl2)"/>
<ellipse cx="28.9" cy="53.5" rx="5" ry="3" transform="rotate(0 28.9 53.5)" fill="#40e02a" opacity="0.61" filter="url(#bl2)"/>
<ellipse cx="20" cy="56" rx="6" ry="3" transform="rotate(0 20 56)" fill="#40e02a" opacity="0.47" filter="url(#bl2)"/>
<ellipse cx="13.1" cy="52.6" rx="2.5" ry="2.5" transform="rotate(0 13.1 52.6)" fill="#40e02a" opacity="0.94" filter="url(#bl2)"/>
<path d="M8.3,0 C9.5,3 10.5,5.5 11.4,7.9 C12.5,10.5 13.5,13 14.5,15.3 L15.8,16.6" stroke="#38e024" stroke-width="0.9" opacity="0.75"/>
<path d="M18.4,0 C17.8,3 17.2,6 16.6,8.8 C16.2,11.5 16,14 15.8,16.6 C17.5,19 19,21 20.2,22.8 C21.5,25 22.5,27 23.2,28.9 C23.8,31.5 24.2,34 24.5,36.8 C24.8,38.5 25.1,40.3 25.4,42" stroke="#38e024" stroke-width="1.3" opacity="0.9"/>
<path d="M29.8,0 C31,2.5 32.2,5 33.3,7.9 C33.5,11 33.6,14 33.7,17.5 C34,20.5 34.3,23.5 34.6,26.3 C34.9,29.2 35.2,32 35.5,35 C35.7,37.3 35.8,39.6 35.9,42" stroke="#38e024" stroke-width="1.0" opacity="0.8"/>
<path d="M41.2,23.7 C40,26 38.8,28.5 37.7,30.7" stroke="#38e024" stroke-width="0.8" opacity="0.5"/>
<path d="M8.8,28 C11,31 13.5,34 15.8,36.8 C18,39 20,41.5 21.9,43.8" stroke="#38e024" stroke-width="0.8" opacity="0.5"/>
<path d="M23.7,17.5 C24.5,22 25.5,26.5 26.3,30.7 C27,34 28,37 28.9,39.4" stroke="#38e024" stroke-width="0.8" opacity="0.5"/>
<path d="M0,41.2 C2,42.5 3.5,43.5 5.3,44.7 C7.5,46.5 9.5,48.5 11.4,50 C12.5,51 13.7,51.9 14.9,52.6" stroke="#38e024" stroke-width="1.0" opacity="0.8"/>
<path d="M35,43 C37.5,44 39.8,45 42.1,45.6 C44.5,45.4 46.8,45 49.1,44.7 C51,42 52.5,39.5 54.4,36.8 C56,35 58,33 60,31.6" stroke="#38e024" stroke-width="0.9" opacity="0.75"/>
<path d="M43.8,47.4 C46.8,46 49.8,44.8 52.6,43.8 C55,42.8 57.5,42 60,41.2" stroke="#38e024" stroke-width="0.9" opacity="0.7"/>
<path d="M20.2,58 C22.3,58.6 24.3,59.1 26.3,59.3 C28.6,59 31,58.7 33.3,58.4 C35.1,58 36.8,57.6 38.6,57.1 C40.4,55.9 42.1,54.7 43.9,53.6 C45.6,52.8 47.4,52 49.1,51.4 C52,51 55,50.9 60,50.9 C62,50.9 64,51 67.9,52.4 C71,53.3 74,54 76.7,54.6 C79.5,55.2 82,55.8 84.6,56.4 C87,58 89.5,60 92.5,62.3 C94.5,63.4 96.5,64.5 98.6,65.4 C100.4,65.1 102.2,64.8 103.9,64.5" stroke="#38e024" stroke-width="1.5" opacity="0.95"/>
<path d="M46,43.6 C48.3,41 50.6,38.3 53,35.8 C55,34.3 57.1,32.8 59.2,31.4 C63.5,30.3 68,29.1 72.3,27.9 C73.5,26.4 74.6,25 75.8,23.5 C76.7,21.9 77.6,20.3 78.5,18.7 C80.5,17.9 82.6,17.2 84.6,16.5 C86.4,16.5 88.1,16.5 89.9,16.5" stroke="#38e024" stroke-width="0.8" opacity="0.55"/>
<path d="M46,45.4 C49,44.2 51.9,43 54.8,41.9 C56.5,41.5 58.3,41 60,40.6 C62.1,41.6 64.1,42.7 66.2,43.7 C67.9,44.6 69.7,45.4 71.4,46.3" stroke="#38e024" stroke-width="0.9" opacity="0.7"/>
<path d="M88.1,4.2 C90.4,3.9 92.8,3.6 95.1,3.3 C98.3,3.6 101.6,3.9 104.8,4.2" stroke="#38e024" stroke-width="0.9" opacity="0.6"/>
<path d="M87.2,27 C88.7,29 90.2,31.1 91.6,33.1" stroke="#38e024" stroke-width="0.7" opacity="0.4"/>
<path d="M98.6,32.3 C100.4,31.1 102.1,30 103.9,28.8" stroke="#38e024" stroke-width="0.7" opacity="0.4"/>
<path d="M0,64.1 C1.8,64.1 3.5,64.1 5.3,64.1 C7,63.4 8.8,62.6 10.5,61.9 C12.3,61.2 14,60.4 15.8,59.7" stroke="#38e024" stroke-width="1.1" opacity="0.85"/>
<path d="M5.3,64.9 C5,67 4.7,69 4.4,71.1 C3.5,72.9 2.7,74.6 1.8,76.4 C1.2,77.6 .6,78.7 0,79.9" stroke="#38e024" stroke-width="0.9" opacity="0.7"/>
<path d="M30.7,59.7 C31.3,63.5 31.9,67.3 32.5,71.1 C33.9,74 35.4,77 36.8,79.9 C38.3,82.8 39.7,85.8 41.2,88.7 C42.7,91.6 44.1,94.5 45.6,97.4 C46.3,99.9 47.1,102.3 47.8,104.8" stroke="#38e024" stroke-width="0.9" opacity="0.75"/>
<path d="M47.8,102.7 C48.8,100.7 49.9,98.6 50.9,96.6 C54,95.9 57,95.1 60,94.4" stroke="#38e024" stroke-width="0.9" opacity="0.7"/>
<path d="M40.4,58 C42.7,59.2 45.1,60.3 47.4,61.5 C49.7,62.4 52.1,63.2 54.4,64.1 C56.3,64.8 58.1,65.6 60,66.3" stroke="#38e024" stroke-width="1.1" opacity="0.85"/>
<path d="M43,59.7 C46.2,62.6 49.4,65.6 52.6,68.5 C55.1,71.4 57.5,74.4 60,77.3" stroke="#38e024" stroke-width="0.7" opacity="0.45"/>
<path d="M0,97.4 C2.9,97.7 5.9,98 8.8,98.3 C11.7,99.8 14.6,101.2 17.5,102.7" stroke="#38e024" stroke-width="0.9" opacity="0.6"/>
<path d="M0,55.3 C2.6,55.3 5.3,55.3 7.9,55.3" stroke="#38e024" stroke-width="0.7" opacity="0.4"/>
<path d="M46,60.6 C49,62.1 51.9,63.5 54.8,65 C57.7,66.2 60.6,67.3 63.5,68.5 C67.6,70.7 71.7,72.9 75.8,75.1 C78.7,75.4 81.7,75.6 84.6,75.9 C86.4,76.6 88.1,77.4 89.9,78.1" stroke="#38e024" stroke-width="1.1" opacity="0.8"/>
<path d="M84.6,75.9 C85.5,74.3 86.3,72.7 87.2,71.1 C88.4,68.5 89.5,65.8 90.7,63.2" stroke="#38e024" stroke-width="0.7" opacity="0.45"/>
<path d="M53,68.5 C54.5,70 55.9,71.4 57.4,72.9 C59.4,76.4 61.5,79.9 63.5,83.4" stroke="#38e024" stroke-width="0.7" opacity="0.45"/>
<path d="M74.1,78.1 C73.8,80.5 73.5,82.8 73.2,85.2 C70,87.5 66.7,89.9 63.5,92.2 C60,93.7 56.5,95.1 53,96.6 C51.3,99.2 49.5,101.8 47.8,104.4" stroke="#38e024" stroke-width="0.9" opacity="0.75"/>
<path d="M102.1,84.3 C103,84.6 103.9,84.9 104.8,85.2" stroke="#38e024" stroke-width="0.9" opacity="0.6"/>
</g>
<g style="mix-blend-mode:screen">
<ellipse cx="666.40" cy="584.80" rx="2.39" ry="2.21" fill="#2020f4" opacity="1" filter="url(#bl1)"/>
<ellipse cx="657.00" cy="598.80" rx="2.76" ry="2.55" fill="#2020f4" opacity="0.45" filter="url(#bl1)"/>
<ellipse cx="598.10" cy="601.90" rx="2.21" ry="2.04" fill="#2020f4" opacity="1" filter="url(#bl1)"/>
<ellipse cx="606.30" cy="612.10" rx="1.93" ry="1.78" fill="#2020f4" opacity="0.8" filter="url(#bl1)"/>
<ellipse cx="603.10" cy="615.70" rx="2.30" ry="2.12" fill="#2020f4" opacity="1" filter="url(#bl1)"/>
<ellipse cx="594.20" cy="616.30" rx="1.93" ry="1.78" fill="#2020f4" opacity="0.85" filter="url(#bl1)"/>
<ellipse cx="610.20" cy="619.90" rx="2.02" ry="1.87" fill="#2020f4" opacity="0.85" filter="url(#bl1)"/>
<ellipse cx="604.70" cy="620.70" rx="1.93" ry="1.78" fill="#2020f4" opacity="0.7" filter="url(#bl1)"/>
<ellipse cx="588.00" cy="623.50" rx="2.30" ry="2.12" fill="#2020f4" opacity="0.8" filter="url(#bl1)"/>
<ellipse cx="577.70" cy="624.10" rx="2.30" ry="2.12" fill="#2020f4" opacity="0.9" filter="url(#bl1)"/>
<ellipse cx="600.30" cy="634.00" rx="1.93" ry="1.78" fill="#2020f4" opacity="1" filter="url(#bl1)"/>
<ellipse cx="596.10" cy="655.80" rx="2.30" ry="2.12" fill="#2020f4" opacity="1" filter="url(#bl1)"/>
<ellipse cx="607.80" cy="659.80" rx="2.76" ry="2.55" fill="#2020f4" opacity="0.55" filter="url(#bl1)"/>
<ellipse cx="585.20" cy="652.70" rx="2.30" ry="2.12" fill="#2020f4" opacity="0.4" filter="url(#bl1)"/>
<ellipse cx="680.50" cy="585.50" rx="1.84" ry="1.70" fill="#2020f4" opacity="0.8" filter="url(#bl1)"/>
</g>
<g style="mix-blend-mode:screen">
</g>
</g></g>
<g clip-path="url(#cp20)">
<ellipse cx="267.20" cy="697.70" rx="2.30" ry="2.12" fill="#2020f4" opacity="1" filter="url(#bl1)"/>
<ellipse cx="294.80" cy="694.90" rx="2.76" ry="2.55" fill="#2020f4" opacity="1" filter="url(#bl1)"/>
<ellipse cx="285.50" cy="701.90" rx="2.76" ry="2.55" fill="#2020f4" opacity="1" filter="url(#bl1)"/>
<ellipse cx="301.90" cy="708.60" rx="2.76" ry="2.55" fill="#2020f4" opacity="1" filter="url(#bl1)"/>
<ellipse cx="293.30" cy="711.30" rx="2.76" ry="2.55" fill="#2020f4" opacity="0.45" filter="url(#bl1)"/>
<ellipse cx="320.30" cy="725.00" rx="1.10" ry="1.02" fill="#2020f4" opacity="0.8" filter="url(#bl1)"/>
<ellipse cx="316.70" cy="730.50" rx="2.76" ry="2.55" fill="#2020f4" opacity="1" filter="url(#bl1)"/>
<ellipse cx="352.70" cy="735.50" rx="2.76" ry="2.55" fill="#2020f4" opacity="1" filter="url(#bl1)"/>
<ellipse cx="293.80" cy="739.40" rx="2.76" ry="2.55" fill="#2020f4" opacity="1" filter="url(#bl1)"/>
<ellipse cx="311.60" cy="744.60" rx="2.76" ry="2.55" fill="#2020f4" opacity="1" filter="url(#bl1)"/>
<ellipse cx="347.20" cy="762.00" rx="1.84" ry="1.70" fill="#2020f4" opacity="0.35" filter="url(#bl1)"/>
</g>
<g clip-path="url(#cp21)">
<circle cx="400.00" cy="711.30" r="3.00" fill="#f21a14" opacity="1" filter="url(#bl2)"/>
<circle cx="453.20" cy="761.30" r="2.50" fill="#f21a14" opacity="0.9" filter="url(#bl2)"/>
<circle cx="374.30" cy="698.00" r="0.80" fill="#f21a14" opacity="0.5" filter="url(#bl2)"/>
<circle cx="426.60" cy="725.00" r="1.00" fill="#f21a14" opacity="0.5" filter="url(#bl2)"/>
<circle cx="421.20" cy="741.80" r="1.00" fill="#f21a14" opacity="0.5" filter="url(#bl2)"/>
</g>
<g clip-path="url(#cp22)">
<g transform="translate(469.0,674.1)" fill="none" stroke-linecap="round" filter="url(#bl0)">
<polygon points="25.4,25.4 34.2,21.9 33.3,29.8 29.8,30.7" fill="#3cd826" stroke="#50f838" stroke-width="0.9" opacity="0.75"/>
<ellipse cx="38" cy="25" rx="4" ry="5.5" transform="rotate(0 38 25)" fill="#40e02a" opacity="0.47" filter="url(#bl2)"/>
<ellipse cx="44.3" cy="36" rx="2.3" ry="2.3" transform="rotate(0 44.3 36)" fill="#40e02a" opacity="1.00" filter="url(#bl2)"/>
<ellipse cx="46.5" cy="33.3" rx="3.5" ry="3" transform="rotate(0 46.5 33.3)" fill="#40e02a" opacity="0.68" filter="url(#bl2)"/>
<ellipse cx="61.8" cy="55.7" rx="4" ry="3.5" transform="rotate(0 61.8 55.7)" fill="#40e02a" opacity="0.81" filter="url(#bl2)"/>
<ellipse cx="62.5" cy="53.8" rx="2.5" ry="1.3" transform="rotate(-20 62.5 53.8)" fill="#40e02a" opacity="1.00" filter="url(#bl2)"/>
<ellipse cx="55.6" cy="70.6" rx="3.5" ry="3.5" transform="rotate(0 55.6 70.6)" fill="#40e02a" opacity="0.74" filter="url(#bl2)"/>
<ellipse cx="38.6" cy="64.3" rx="2" ry="4.5" transform="rotate(45 38.6 64.3)" fill="#40e02a" opacity="0.94" filter="url(#bl2)"/>
<ellipse cx="98.6" cy="61" rx="2" ry="2" transform="rotate(0 98.6 61)" fill="#40e02a" opacity="0.94" filter="url(#bl2)"/>
<path d="M9.6,15.8 C11.4,17.5 13.1,19.3 14.9,21 C16.7,22.2 18.4,23.4 20.2,24.6 C21.9,25 23.7,25.5 25.4,25.9" stroke="#38e024" stroke-width="1.1" opacity="0.85"/>
<path d="M17.5,22.8 C15.5,22.8 13.4,22.8 11.4,22.8 C11.1,23.7 10.8,24.5 10.5,25.4 C11.4,26.3 12.3,27.2 13.2,28.1 C14.6,27.8 16.1,27.5 17.5,27.2" stroke="#38e024" stroke-width="0.8" opacity="0.6"/>
<path d="M33.3,21.9 C33.5,20.4 33.6,19 33.8,17.5 C33.5,16.5 33.2,15.5 32.9,14.5" stroke="#38e024" stroke-width="1.0" opacity="0.85"/>
<path d="M18.4,14.9 C19.4,16.2 20.5,17.6 21.5,18.9" stroke="#38e024" stroke-width="0.8" opacity="0.5"/>
<path d="M24.6,15.4 C26.0,17 27.5,18.6 28.9,20.2" stroke="#38e024" stroke-width="0.8" opacity="0.5"/>
<path d="M28.9,29.8 C31,31 33,32.2 35.1,33.3 C36.9,33.9 38.6,34.5 40.4,35.1 C41.7,35.4 43,35.7 44.3,36" stroke="#38e024" stroke-width="1.1" opacity="0.9"/>
<path d="M48.6,33.3 C52.1,33.2 55.7,33 59.2,32.9 C60.9,31.2 62.7,29.4 64.4,27.7" stroke="#38e024" stroke-width="0.8" opacity="0.7"/>
<path d="M59.2,32.9 C60.6,34.4 62.1,35.8 63.5,37.3 C64.7,38.8 65.8,40.2 67,41.7 C67.5,44.3 67.9,47 68.4,49.6" stroke="#38e024" stroke-width="0.8" opacity="0.7"/>
<path d="M46.9,38.2 C48.6,40.5 50.4,42.9 52.1,45.2 C54.2,47.8 56.2,50.5 58.3,53.1" stroke="#38e024" stroke-width="1.1" opacity="0.9"/>
<path d="M66.2,52.2 C68.8,50.7 71.5,49.3 74.1,47.8 C77,46.3 79.9,44.9 82.8,43.4" stroke="#38e024" stroke-width="1.3" opacity="0.8"/>
<path d="M60,60.1 C59.1,61.9 58.3,63.6 57.4,65.4" stroke="#38e024" stroke-width="1.4" opacity="0.85"/>
<path d="M57.4,74.1 C57.8,76.2 58.3,78.2 58.7,80.3 C59,82 59.3,83.8 59.6,85.5 C60,88 60.5,90 61,92" stroke="#38e024" stroke-width="1.0" opacity="0.85"/>
<path d="M61.8,64.5 C64.7,65.4 67.7,66.2 70.6,67.1 C74.7,68.6 78.7,70 82.8,71.5" stroke="#38e024" stroke-width="0.8" opacity="0.65"/>
<path d="M46,57.5 C49.8,57.2 53.6,56.9 57.4,56.6" stroke="#38e024" stroke-width="0.6" opacity="0.4"/>
<path d="M46,71.5 C48.9,71.2 51.9,70.9 54.8,70.6" stroke="#38e024" stroke-width="0.6" opacity="0.4"/>
<path d="M98.6,61 C100.5,60.4 102.4,59.8 104.3,59.2" stroke="#38e024" stroke-width="1.0" opacity="0.85"/>
<path d="M97.8,69.8 C96.5,72.1 95.1,74.5 93.8,76.8 C93.9,78 94.1,79.1 94.2,80.3 C94.4,82 94.5,83.8 94.7,85.5 C95,87.5 95.5,89 96,90.6" stroke="#38e024" stroke-width="0.8" opacity="0.65"/>
<path d="M45.6,45.9 C44.9,47.7 44.1,49.4 43.4,51.2 C43.4,52.9 43.4,54.7 43.4,56.4 C45.3,56.7 47.2,57 49.1,57.3 C50.9,57.2 52.6,57 54.4,56.9" stroke="#38e024" stroke-width="0.9" opacity="0.75"/>
<path d="M51.8,45.9 C53.2,47.7 54.7,49.4 56.1,51.2 C57.3,52.4 58.4,53.5 59.6,54.7" stroke="#38e024" stroke-width="0.9" opacity="0.7"/>
<path d="M42.1,69.6 C44.4,70.5 46.8,71.3 49.1,72.2 C50.9,72.2 52.6,72.2 54.4,72.2" stroke="#38e024" stroke-width="0.7" opacity="0.55"/>
<path d="M21.5,2.2 C22.4,3.2 23.2,4.3 24.1,5.3" stroke="#38e024" stroke-width="1.1" opacity="0.85"/>
<path d="M0,1 L1.5,1.5" stroke="#38e024" stroke-width="1.2" opacity="0.8"/>
</g>
</g>
<g clip-path="url(#cp23)"><g style="isolation:isolate">
<g transform="translate(575.8,674.1)" fill="none" stroke-linecap="round" filter="url(#bl0)">
<polygon points="25.4,25.4 34.2,21.9 33.3,29.8 29.8,30.7" fill="#3cd826" stroke="#50f838" stroke-width="0.9" opacity="0.75"/>
<ellipse cx="38" cy="25" rx="4" ry="5.5" transform="rotate(0 38 25)" fill="#40e02a" opacity="0.47" filter="url(#bl2)"/>
<ellipse cx="44.3" cy="36" rx="2.3" ry="2.3" transform="rotate(0 44.3 36)" fill="#40e02a" opacity="1.00" filter="url(#bl2)"/>
<ellipse cx="46.5" cy="33.3" rx="3.5" ry="3" transform="rotate(0 46.5 33.3)" fill="#40e02a" opacity="0.68" filter="url(#bl2)"/>
<ellipse cx="61.8" cy="55.7" rx="4" ry="3.5" transform="rotate(0 61.8 55.7)" fill="#40e02a" opacity="0.81" filter="url(#bl2)"/>
<ellipse cx="62.5" cy="53.8" rx="2.5" ry="1.3" transform="rotate(-20 62.5 53.8)" fill="#40e02a" opacity="1.00" filter="url(#bl2)"/>
<ellipse cx="55.6" cy="70.6" rx="3.5" ry="3.5" transform="rotate(0 55.6 70.6)" fill="#40e02a" opacity="0.74" filter="url(#bl2)"/>
<ellipse cx="38.6" cy="64.3" rx="2" ry="4.5" transform="rotate(45 38.6 64.3)" fill="#40e02a" opacity="0.94" filter="url(#bl2)"/>
<ellipse cx="98.6" cy="61" rx="2" ry="2" transform="rotate(0 98.6 61)" fill="#40e02a" opacity="0.94" filter="url(#bl2)"/>
<path d="M9.6,15.8 C11.4,17.5 13.1,19.3 14.9,21 C16.7,22.2 18.4,23.4 20.2,24.6 C21.9,25 23.7,25.5 25.4,25.9" stroke="#38e024" stroke-width="1.1" opacity="0.85"/>
<path d="M17.5,22.8 C15.5,22.8 13.4,22.8 11.4,22.8 C11.1,23.7 10.8,24.5 10.5,25.4 C11.4,26.3 12.3,27.2 13.2,28.1 C14.6,27.8 16.1,27.5 17.5,27.2" stroke="#38e024" stroke-width="0.8" opacity="0.6"/>
<path d="M33.3,21.9 C33.5,20.4 33.6,19 33.8,17.5 C33.5,16.5 33.2,15.5 32.9,14.5" stroke="#38e024" stroke-width="1.0" opacity="0.85"/>
<path d="M18.4,14.9 C19.4,16.2 20.5,17.6 21.5,18.9" stroke="#38e024" stroke-width="0.8" opacity="0.5"/>
<path d="M24.6,15.4 C26.0,17 27.5,18.6 28.9,20.2" stroke="#38e024" stroke-width="0.8" opacity="0.5"/>
<path d="M28.9,29.8 C31,31 33,32.2 35.1,33.3 C36.9,33.9 38.6,34.5 40.4,35.1 C41.7,35.4 43,35.7 44.3,36" stroke="#38e024" stroke-width="1.1" opacity="0.9"/>
<path d="M48.6,33.3 C52.1,33.2 55.7,33 59.2,32.9 C60.9,31.2 62.7,29.4 64.4,27.7" stroke="#38e024" stroke-width="0.8" opacity="0.7"/>
<path d="M59.2,32.9 C60.6,34.4 62.1,35.8 63.5,37.3 C64.7,38.8 65.8,40.2 67,41.7 C67.5,44.3 67.9,47 68.4,49.6" stroke="#38e024" stroke-width="0.8" opacity="0.7"/>
<path d="M46.9,38.2 C48.6,40.5 50.4,42.9 52.1,45.2 C54.2,47.8 56.2,50.5 58.3,53.1" stroke="#38e024" stroke-width="1.1" opacity="0.9"/>
<path d="M66.2,52.2 C68.8,50.7 71.5,49.3 74.1,47.8 C77,46.3 79.9,44.9 82.8,43.4" stroke="#38e024" stroke-width="1.3" opacity="0.8"/>
<path d="M60,60.1 C59.1,61.9 58.3,63.6 57.4,65.4" stroke="#38e024" stroke-width="1.4" opacity="0.85"/>
<path d="M57.4,74.1 C57.8,76.2 58.3,78.2 58.7,80.3 C59,82 59.3,83.8 59.6,85.5 C60,88 60.5,90 61,92" stroke="#38e024" stroke-width="1.0" opacity="0.85"/>
<path d="M61.8,64.5 C64.7,65.4 67.7,66.2 70.6,67.1 C74.7,68.6 78.7,70 82.8,71.5" stroke="#38e024" stroke-width="0.8" opacity="0.65"/>
<path d="M46,57.5 C49.8,57.2 53.6,56.9 57.4,56.6" stroke="#38e024" stroke-width="0.6" opacity="0.4"/>
<path d="M46,71.5 C48.9,71.2 51.9,70.9 54.8,70.6" stroke="#38e024" stroke-width="0.6" opacity="0.4"/>
<path d="M98.6,61 C100.5,60.4 102.4,59.8 104.3,59.2" stroke="#38e024" stroke-width="1.0" opacity="0.85"/>
<path d="M97.8,69.8 C96.5,72.1 95.1,74.5 93.8,76.8 C93.9,78 94.1,79.1 94.2,80.3 C94.4,82 94.5,83.8 94.7,85.5 C95,87.5 95.5,89 96,90.6" stroke="#38e024" stroke-width="0.8" opacity="0.65"/>
<path d="M45.6,45.9 C44.9,47.7 44.1,49.4 43.4,51.2 C43.4,52.9 43.4,54.7 43.4,56.4 C45.3,56.7 47.2,57 49.1,57.3 C50.9,57.2 52.6,57 54.4,56.9" stroke="#38e024" stroke-width="0.9" opacity="0.75"/>
<path d="M51.8,45.9 C53.2,47.7 54.7,49.4 56.1,51.2 C57.3,52.4 58.4,53.5 59.6,54.7" stroke="#38e024" stroke-width="0.9" opacity="0.7"/>
<path d="M42.1,69.6 C44.4,70.5 46.8,71.3 49.1,72.2 C50.9,72.2 52.6,72.2 54.4,72.2" stroke="#38e024" stroke-width="0.7" opacity="0.55"/>
<path d="M21.5,2.2 C22.4,3.2 23.2,4.3 24.1,5.3" stroke="#38e024" stroke-width="1.1" opacity="0.85"/>
<path d="M0,1 L1.5,1.5" stroke="#38e024" stroke-width="1.2" opacity="0.8"/>
</g>
<g style="mix-blend-mode:screen">
<ellipse cx="588.00" cy="697.70" rx="2.30" ry="2.12" fill="#2020f4" opacity="1" filter="url(#bl1)"/>
<ellipse cx="615.60" cy="694.90" rx="2.76" ry="2.55" fill="#2020f4" opacity="1" filter="url(#bl1)"/>
<ellipse cx="606.30" cy="701.90" rx="2.76" ry="2.55" fill="#2020f4" opacity="1" filter="url(#bl1)"/>
<ellipse cx="622.70" cy="708.60" rx="2.76" ry="2.55" fill="#2020f4" opacity="1" filter="url(#bl1)"/>
<ellipse cx="614.10" cy="711.30" rx="2.76" ry="2.55" fill="#2020f4" opacity="0.45" filter="url(#bl1)"/>
<ellipse cx="641.10" cy="725.00" rx="1.10" ry="1.02" fill="#2020f4" opacity="0.8" filter="url(#bl1)"/>
<ellipse cx="637.50" cy="730.50" rx="2.76" ry="2.55" fill="#2020f4" opacity="1" filter="url(#bl1)"/>
<ellipse cx="673.50" cy="735.50" rx="2.76" ry="2.55" fill="#2020f4" opacity="1" filter="url(#bl1)"/>
<ellipse cx="614.60" cy="739.40" rx="2.76" ry="2.55" fill="#2020f4" opacity="1" filter="url(#bl1)"/>
<ellipse cx="632.40" cy="744.60" rx="2.76" ry="2.55" fill="#2020f4" opacity="1" filter="url(#bl1)"/>
<ellipse cx="668.00" cy="762.00" rx="1.84" ry="1.70" fill="#2020f4" opacity="0.35" filter="url(#bl1)"/>
</g>
<g style="mix-blend-mode:screen">
<circle cx="613.60" cy="711.30" r="3.00" fill="#f21a14" opacity="1" filter="url(#bl2)"/>
<circle cx="666.80" cy="761.30" r="2.50" fill="#f21a14" opacity="0.9" filter="url(#bl2)"/>
<circle cx="587.90" cy="698.00" r="0.80" fill="#f21a14" opacity="0.5" filter="url(#bl2)"/>
<circle cx="640.20" cy="725.00" r="1.00" fill="#f21a14" opacity="0.5" filter="url(#bl2)"/>
<circle cx="634.80" cy="741.80" r="1.00" fill="#f21a14" opacity="0.5" filter="url(#bl2)"/>
</g>
</g></g>
<g clip-path="url(#cp30)">
<ellipse cx="295.30" cy="796.30" rx="2.02" ry="1.87" fill="#2020f4" opacity="0.75" filter="url(#bl1)"/>
<ellipse cx="304.70" cy="826.60" rx="1.84" ry="1.70" fill="#2020f4" opacity="1" filter="url(#bl1)"/>
<ellipse cx="340.60" cy="842.00" rx="2.76" ry="2.55" fill="#2020f4" opacity="0.6" filter="url(#bl1)"/>
<ellipse cx="300.00" cy="845.80" rx="2.02" ry="1.87" fill="#2020f4" opacity="0.65" filter="url(#bl1)"/>
<ellipse cx="267.20" cy="857.60" rx="1.66" ry="1.53" fill="#2020f4" opacity="1" filter="url(#bl1)"/>
<ellipse cx="275.00" cy="856.30" rx="2.30" ry="2.12" fill="#2020f4" opacity="0.6" filter="url(#bl1)"/>
<ellipse cx="319.80" cy="856.80" rx="2.30" ry="2.12" fill="#2020f4" opacity="0.9" filter="url(#bl1)"/>
<ellipse cx="322.50" cy="858.30" rx="2.30" ry="2.12" fill="#2020f4" opacity="1" filter="url(#bl1)"/>
<ellipse cx="319.00" cy="862.30" rx="1.84" ry="1.70" fill="#2020f4" opacity="1" filter="url(#bl1)"/>
<ellipse cx="337.00" cy="857.90" rx="2.02" ry="1.87" fill="#2020f4" opacity="1" filter="url(#bl1)"/>
<ellipse cx="300.80" cy="871.30" rx="1.66" ry="1.53" fill="#2020f4" opacity="1" filter="url(#bl1)"/>
</g>
<g clip-path="url(#cp31)">
<circle cx="411.00" cy="826.60" r="2.10" fill="#f21a14" opacity="1" filter="url(#bl2)"/>
<circle cx="373.50" cy="857.30" r="1.80" fill="#f21a14" opacity="1" filter="url(#bl2)"/>
<circle cx="426.30" cy="861.50" r="2.10" fill="#f21a14" opacity="1" filter="url(#bl2)"/>
<circle cx="443.80" cy="857.60" r="2.10" fill="#f21a14" opacity="0.9" filter="url(#bl2)"/>
<circle cx="406.60" cy="871.30" r="1.00" fill="#f21a14" opacity="0.5" filter="url(#bl2)"/>
<circle cx="379.80" cy="881.00" r="1.00" fill="#f21a14" opacity="0.4" filter="url(#bl2)"/>
</g>
<g clip-path="url(#cp32)">
<g transform="translate(469.0,781.7)" fill="none" stroke-linecap="round" filter="url(#bl0)">
<ellipse cx="65.5" cy="77" rx="4" ry="2.6" transform="rotate(-10 65.5 77)" fill="#40e02a" opacity="1.00" filter="url(#bl2)"/>
<ellipse cx="82.8" cy="76.7" rx="1.2" ry="1.2" transform="rotate(0 82.8 76.7)" fill="#40e02a" opacity="1.00" filter="url(#bl2)"/>
<ellipse cx="44.9" cy="61.5" rx="1.0" ry="1.6" transform="rotate(0 44.9 61.5)" fill="#40e02a" opacity="1.00" filter="url(#bl2)"/>
<ellipse cx="42.6" cy="89.4" rx="1" ry="1" transform="rotate(0 42.6 89.4)" fill="#40e02a" opacity="1.00" filter="url(#bl2)"/>
<ellipse cx="37.2" cy="83.2" rx="0.9" ry="0.9" transform="rotate(0 37.2 83.2)" fill="#40e02a" opacity="0.94" filter="url(#bl2)"/>
<path d="M61.7,1.6 C61,8 60,15 59.4,21.9 C57,28 55,34 53,39 C51,43 49,47 47,50" stroke="#38e024" stroke-width="0.9" opacity="0.55" stroke-dasharray="1 1.6"/>
<path d="M8.5,43.7 C14,47 20,50 26.3,53 C29,57 32,61 34.8,64.6 C36,68 37.5,72 38.7,75.5 C39,78 39,80 39,82.8" stroke="#38e024" stroke-width="0.8" opacity="0.5" stroke-dasharray="1 1.8"/>
<path d="M16.3,74.7 C18.6,74.9 20.9,75.2 23.2,75.5" stroke="#38e024" stroke-width="1.2" opacity="0.85"/>
<path d="M69.7,77.8 C73.8,77.3 77.9,76.7 82,76.2 C85.6,75.7 89.3,75.2 92.9,74.7 C97,75.8 101.1,76.8 105.3,77.8" stroke="#38e024" stroke-width="1.1" opacity="0.8" stroke-dasharray="1.6 1.1"/>
<path d="M75.9,45.3 C75.9,48.1 75.9,51 75.9,53.8 C74.6,56.9 73.3,60 72,63.1" stroke="#38e024" stroke-width="0.9" opacity="0.55" stroke-dasharray="1 1.6"/>
<path d="M82,38.3 C81.8,41.9 81.5,45.5 81.3,49.1" stroke="#38e024" stroke-width="0.8" opacity="0.5" stroke-dasharray="1 1.6"/>
<path d="M44.9,44.5 C45.4,46.6 45.9,48.6 46.4,50.7" stroke="#38e024" stroke-width="0.9" opacity="0.5" stroke-dasharray="1 1.4"/>
</g>
</g>
<g clip-path="url(#cp33)"><g style="isolation:isolate">
<g transform="translate(575.8,781.7)" fill="none" stroke-linecap="round" filter="url(#bl0)">
<ellipse cx="65.5" cy="77" rx="4" ry="2.6" transform="rotate(-10 65.5 77)" fill="#40e02a" opacity="1.00" filter="url(#bl2)"/>
<ellipse cx="82.8" cy="76.7" rx="1.2" ry="1.2" transform="rotate(0 82.8 76.7)" fill="#40e02a" opacity="1.00" filter="url(#bl2)"/>
<ellipse cx="44.9" cy="61.5" rx="1.0" ry="1.6" transform="rotate(0 44.9 61.5)" fill="#40e02a" opacity="1.00" filter="url(#bl2)"/>
<ellipse cx="42.6" cy="89.4" rx="1" ry="1" transform="rotate(0 42.6 89.4)" fill="#40e02a" opacity="1.00" filter="url(#bl2)"/>
<ellipse cx="37.2" cy="83.2" rx="0.9" ry="0.9" transform="rotate(0 37.2 83.2)" fill="#40e02a" opacity="0.94" filter="url(#bl2)"/>
<path d="M61.7,1.6 C61,8 60,15 59.4,21.9 C57,28 55,34 53,39 C51,43 49,47 47,50" stroke="#38e024" stroke-width="0.9" opacity="0.55" stroke-dasharray="1 1.6"/>
<path d="M8.5,43.7 C14,47 20,50 26.3,53 C29,57 32,61 34.8,64.6 C36,68 37.5,72 38.7,75.5 C39,78 39,80 39,82.8" stroke="#38e024" stroke-width="0.8" opacity="0.5" stroke-dasharray="1 1.8"/>
<path d="M16.3,74.7 C18.6,74.9 20.9,75.2 23.2,75.5" stroke="#38e024" stroke-width="1.2" opacity="0.85"/>
<path d="M69.7,77.8 C73.8,77.3 77.9,76.7 82,76.2 C85.6,75.7 89.3,75.2 92.9,74.7 C97,75.8 101.1,76.8 105.3,77.8" stroke="#38e024" stroke-width="1.1" opacity="0.8" stroke-dasharray="1.6 1.1"/>
<path d="M75.9,45.3 C75.9,48.1 75.9,51 75.9,53.8 C74.6,56.9 73.3,60 72,63.1" stroke="#38e024" stroke-width="0.9" opacity="0.55" stroke-dasharray="1 1.6"/>
<path d="M82,38.3 C81.8,41.9 81.5,45.5 81.3,49.1" stroke="#38e024" stroke-width="0.8" opacity="0.5" stroke-dasharray="1 1.6"/>
<path d="M44.9,44.5 C45.4,46.6 45.9,48.6 46.4,50.7" stroke="#38e024" stroke-width="0.9" opacity="0.5" stroke-dasharray="1 1.4"/>
</g>
<g style="mix-blend-mode:screen">
<ellipse cx="616.10" cy="796.30" rx="2.02" ry="1.87" fill="#2020f4" opacity="0.75" filter="url(#bl1)"/>
<ellipse cx="625.50" cy="826.60" rx="1.84" ry="1.70" fill="#2020f4" opacity="1" filter="url(#bl1)"/>
<ellipse cx="661.40" cy="842.00" rx="2.76" ry="2.55" fill="#2020f4" opacity="0.6" filter="url(#bl1)"/>
<ellipse cx="620.80" cy="845.80" rx="2.02" ry="1.87" fill="#2020f4" opacity="0.65" filter="url(#bl1)"/>
<ellipse cx="588.00" cy="857.60" rx="1.66" ry="1.53" fill="#2020f4" opacity="1" filter="url(#bl1)"/>
<ellipse cx="595.80" cy="856.30" rx="2.30" ry="2.12" fill="#2020f4" opacity="0.6" filter="url(#bl1)"/>
<ellipse cx="640.60" cy="856.80" rx="2.30" ry="2.12" fill="#2020f4" opacity="0.9" filter="url(#bl1)"/>
<ellipse cx="643.30" cy="858.30" rx="2.30" ry="2.12" fill="#2020f4" opacity="1" filter="url(#bl1)"/>
<ellipse cx="639.80" cy="862.30" rx="1.84" ry="1.70" fill="#2020f4" opacity="1" filter="url(#bl1)"/>
<ellipse cx="657.80" cy="857.90" rx="2.02" ry="1.87" fill="#2020f4" opacity="1" filter="url(#bl1)"/>
<ellipse cx="621.60" cy="871.30" rx="1.66" ry="1.53" fill="#2020f4" opacity="1" filter="url(#bl1)"/>
</g>
<g style="mix-blend-mode:screen">
<circle cx="624.60" cy="826.60" r="2.10" fill="#f21a14" opacity="1" filter="url(#bl2)"/>
<circle cx="587.10" cy="857.30" r="1.80" fill="#f21a14" opacity="1" filter="url(#bl2)"/>
<circle cx="639.90" cy="861.50" r="2.10" fill="#f21a14" opacity="1" filter="url(#bl2)"/>
<circle cx="657.40" cy="857.60" r="2.10" fill="#f21a14" opacity="0.9" filter="url(#bl2)"/>
<circle cx="620.20" cy="871.30" r="1.00" fill="#f21a14" opacity="0.5" filter="url(#bl2)"/>
<circle cx="593.40" cy="881.00" r="1.00" fill="#f21a14" opacity="0.4" filter="url(#bl2)"/>
</g>
</g></g>
<line x1="665.3" y1="881.5" x2="677.1" y2="881.5" stroke="#dcdcdc" stroke-width="1.3"/>
<text x="307.05" y="453" font-size="11.5" text-anchor="middle" fill="#3333f2" font-family='"Liberation Sans", sans-serif'>DAPI</text>
<text x="413.0" y="453" font-size="11.5" text-anchor="middle" fill="#ee2452" font-family='"Liberation Sans", sans-serif'>TUNEL</text>
<text x="527.25" y="453" font-size="11.5" text-anchor="middle" fill="#3de62a" font-family='"Liberation Sans", sans-serif'>MAP2</text>
<text x="631.85" y="453" font-size="11.5" text-anchor="middle" fill="#111" font-family='"Liberation Sans", sans-serif'>MERGE</text>
<line x1="284.3" y1="455.4" x2="332.0" y2="455.4" stroke="#6a6a6a" stroke-width="0.9"/>
<line x1="387.6" y1="455.4" x2="435.9" y2="455.4" stroke="#6a6a6a" stroke-width="0.9"/>
<line x1="501.8" y1="455.4" x2="549.9" y2="455.4" stroke="#6a6a6a" stroke-width="0.9"/>
<line x1="608.2" y1="455.4" x2="656.8" y2="455.4" stroke="#6a6a6a" stroke-width="0.9"/>
<rect x="224.9" y="509.3" width="2" height="5.6" fill="#111"/>
<rect x="243.3" y="509.3" width="2" height="5.6" fill="#111"/>
<line x1="250.5" y1="490.1" x2="250.5" y2="538.3" stroke="#8a8a8a" stroke-width="0.8"/>
<rect x="224.9" y="609.4000000000001" width="2" height="5.6" fill="#111"/>
<path d="M239.9,612.2h7M243.4,608.7v7" stroke="#111" stroke-width="1.15"/>
<line x1="250.5" y1="587.1" x2="250.5" y2="635.4" stroke="#8a8a8a" stroke-width="0.8"/>
<path d="M221.5,726.5h7M225.0,723.0v7" stroke="#111" stroke-width="1.15"/>
<rect x="243.3" y="723.7" width="2" height="5.6" fill="#111"/>
<line x1="250.5" y1="702.1" x2="250.5" y2="750.4" stroke="#8a8a8a" stroke-width="0.8"/>
<path d="M221.5,838.4h7M225.0,834.9v7" stroke="#111" stroke-width="1.15"/>
<path d="M239.9,838.4h7M243.4,834.9v7" stroke="#111" stroke-width="1.15"/>
<line x1="250.5" y1="812.4" x2="250.5" y2="860.0" stroke="#8a8a8a" stroke-width="0.8"/>
<text transform="translate(213,882.7) rotate(-90)" font-size="11.5" text-anchor="middle" font-family='"Liberation Sans", sans-serif'>ACM</text>
<text transform="translate(228.6,881.6) rotate(-90)" font-size="11.5" text-anchor="middle" font-family='"Liberation Sans", sans-serif'>PFF</text>
<text transform="translate(247,882.7) rotate(-90)" font-size="11.5" text-anchor="middle" font-family='"Liberation Sans", sans-serif'>C4</text>
</svg>
</body></html>
